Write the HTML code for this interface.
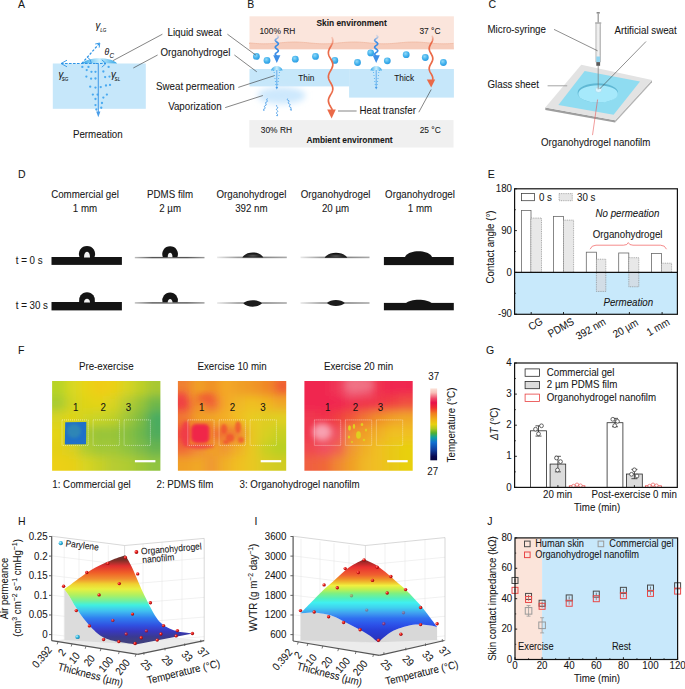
<!DOCTYPE html>
<html><head><meta charset="utf-8"><style>
html,body{margin:0;padding:0;background:#fff;width:685px;height:689px;overflow:hidden}
svg{display:block}
text{font-family:"Liberation Sans", sans-serif;stroke:#161616;stroke-width:0.06px;paint-order:stroke}
</style></head><body>
<svg width="685" height="689" viewBox="0 0 685 689" font-family='"Liberation Sans", sans-serif' fill="#161616">
<defs><linearGradient id="drop" x1="0" x2="1" y1="0" y2="0"><stop offset="0" stop-color="#2fa3e6"/><stop offset="0.3" stop-color="#8fd3f5"/><stop offset="0.5" stop-color="#c9eefc"/><stop offset="0.7" stop-color="#8fd3f5"/><stop offset="1" stop-color="#2fa3e6"/></linearGradient><radialGradient id="ball" cx="0.4" cy="0.35" r="0.7"><stop offset="0" stop-color="#8fd8f8"/><stop offset="0.6" stop-color="#3fb0ec"/><stop offset="1" stop-color="#2a98e0"/></radialGradient><radialGradient id="vapor" cx="0.5" cy="0.5" r="0.5"><stop offset="0" stop-color="#cfeafd"/><stop offset="0.6" stop-color="#dcf0fd"/><stop offset="1" stop-color="#ffffff" stop-opacity="0"/></radialGradient><linearGradient id="fadeb" x1="0" x2="0" y1="0" y2="1"><stop offset="0" stop-color="#3d8ee6" stop-opacity="0.1"/><stop offset="0.35" stop-color="#3d8ee6"/><stop offset="1" stop-color="#3d8ee6"/></linearGradient><linearGradient id="fader" x1="0" x2="0" y1="0" y2="1"><stop offset="0" stop-color="#ea6a48" stop-opacity="0.2"/><stop offset="0.15" stop-color="#ea6a48"/><stop offset="1" stop-color="#ea6a48"/></linearGradient><filter id="blur6" x="-0.1" y="-0.1" width="1.2" height="1.2"><feGaussianBlur stdDeviation="5"/></filter><filter id="blur1" x="-0.5" y="-0.5" width="2" height="2"><feGaussianBlur stdDeviation="0.9"/></filter><filter id="blur2" x="-0.5" y="-0.5" width="2" height="2"><feGaussianBlur stdDeviation="1.6"/></filter><filter id="blur3" x="-0.5" y="-0.5" width="2" height="2"><feGaussianBlur stdDeviation="3"/></filter><clipPath id="ci0"><rect x="52.1" y="380.9" width="108.3" height="89.90000000000003"/></clipPath><clipPath id="ci1"><rect x="177.9" y="380.9" width="108.3" height="89.90000000000003"/></clipPath><clipPath id="ci2"><rect x="304.4" y="380.9" width="108.3" height="89.90000000000003"/></clipPath><linearGradient id="cbar" x1="0" x2="0" y1="0" y2="1"><stop offset="0" stop-color="#fbe2d8"/><stop offset="0.06" stop-color="#f8c0b8"/><stop offset="0.14" stop-color="#f04a68"/><stop offset="0.2" stop-color="#e8104a"/><stop offset="0.27" stop-color="#f03030"/><stop offset="0.35" stop-color="#f08020"/><stop offset="0.43" stop-color="#f0b018"/><stop offset="0.5" stop-color="#e8d010"/><stop offset="0.56" stop-color="#b0c820"/><stop offset="0.62" stop-color="#50b030"/><stop offset="0.68" stop-color="#10a0a0"/><stop offset="0.75" stop-color="#1070d0"/><stop offset="0.85" stop-color="#1040a0"/><stop offset="0.95" stop-color="#080850"/><stop offset="1" stop-color="#060640"/></linearGradient><linearGradient id="jetH" gradientUnits="userSpaceOnUse" x1="0" x2="0" y1="554" y2="644"><stop offset="0.011" stop-color="#5a3030"/><stop offset="0.067" stop-color="#7a3028"/><stop offset="0.133" stop-color="#e03030"/><stop offset="0.211" stop-color="#f06028"/><stop offset="0.278" stop-color="#f09030"/><stop offset="0.333" stop-color="#f0d030"/><stop offset="0.389" stop-color="#e8f040"/><stop offset="0.456" stop-color="#b0f060"/><stop offset="0.522" stop-color="#70f0a0"/><stop offset="0.567" stop-color="#40f0e0"/><stop offset="0.633" stop-color="#40c0f0"/><stop offset="0.711" stop-color="#3080f0"/><stop offset="0.794" stop-color="#3050e0"/><stop offset="0.856" stop-color="#3838c0"/><stop offset="0.922" stop-color="#3a3a90"/><stop offset="0.967" stop-color="#404080"/></linearGradient><linearGradient id="jetI" gradientUnits="userSpaceOnUse" x1="0" x2="0" y1="558" y2="643"><stop offset="0.014" stop-color="#6a2a2a"/><stop offset="0.059" stop-color="#b02828"/><stop offset="0.106" stop-color="#e83030"/><stop offset="0.200" stop-color="#f06030"/><stop offset="0.247" stop-color="#f09028"/><stop offset="0.294" stop-color="#f0c830"/><stop offset="0.324" stop-color="#f0f040"/><stop offset="0.369" stop-color="#c0f050"/><stop offset="0.416" stop-color="#80f080"/><stop offset="0.478" stop-color="#50f0c0"/><stop offset="0.525" stop-color="#40f0f0"/><stop offset="0.586" stop-color="#40d0f0"/><stop offset="0.647" stop-color="#40a0f0"/><stop offset="0.709" stop-color="#3070f0"/><stop offset="0.788" stop-color="#2c50e8"/><stop offset="0.847" stop-color="#2840d8"/><stop offset="0.918" stop-color="#2838c8"/><stop offset="0.988" stop-color="#3030b0"/></linearGradient><radialGradient id="rdot" cx="0.35" cy="0.35" r="0.7"><stop offset="0" stop-color="#ff9a8a"/><stop offset="0.45" stop-color="#e81818"/><stop offset="1" stop-color="#8a0808"/></radialGradient><radialGradient id="cdot" cx="0.35" cy="0.35" r="0.7"><stop offset="0" stop-color="#c8f4ff"/><stop offset="0.5" stop-color="#30b8e0"/><stop offset="1" stop-color="#1878a0"/></radialGradient></defs>
<rect width="685" height="689" fill="#fff"/>
<text x="18.00" y="8.30" font-size="10.5" transform="translate(18.00 8.30) scale(1 1.1) translate(-18.00 -8.30)">A</text>
<rect x="52.80" y="63.50" width="93.00" height="45.30" fill="#c6e7fa"/>
<path d="M82,63.6 C88,56.5 111,56.5 117.2,63.6 Z" fill="url(#drop)"/>
<circle cx="86.72" cy="70.08" r="1.15" fill="#4aaaf0"/>
<circle cx="91.45" cy="71.83" r="1.15" fill="#4aaaf0"/>
<circle cx="95.48" cy="71.83" r="1.15" fill="#4aaaf0"/>
<circle cx="86.37" cy="76.56" r="1.15" fill="#4aaaf0"/>
<circle cx="91.10" cy="78.66" r="1.15" fill="#4aaaf0"/>
<circle cx="95.48" cy="78.49" r="1.15" fill="#4aaaf0"/>
<circle cx="103.36" cy="71.48" r="1.15" fill="#4aaaf0"/>
<circle cx="108.62" cy="66.92" r="1.15" fill="#4aaaf0"/>
<circle cx="105.12" cy="77.08" r="1.15" fill="#4aaaf0"/>
<circle cx="109.50" cy="76.56" r="1.15" fill="#4aaaf0"/>
<circle cx="90.22" cy="86.72" r="1.15" fill="#4aaaf0"/>
<circle cx="95.48" cy="87.60" r="1.15" fill="#4aaaf0"/>
<circle cx="100.74" cy="87.07" r="1.15" fill="#4aaaf0"/>
<circle cx="105.99" cy="85.49" r="1.15" fill="#4aaaf0"/>
<circle cx="110.02" cy="84.97" r="1.15" fill="#4aaaf0"/>
<circle cx="92.85" cy="94.60" r="1.15" fill="#4aaaf0"/>
<circle cx="97.58" cy="94.60" r="1.15" fill="#4aaaf0"/>
<circle cx="103.36" cy="97.58" r="1.15" fill="#4aaaf0"/>
<circle cx="106.87" cy="94.60" r="1.15" fill="#4aaaf0"/>
<circle cx="95.48" cy="98.98" r="1.15" fill="#4aaaf0"/>
<circle cx="95.48" cy="105.12" r="1.15" fill="#4aaaf0"/>
<circle cx="101.96" cy="103.01" r="1.15" fill="#4aaaf0"/>
<circle cx="96.36" cy="109.50" r="1.15" fill="#4aaaf0"/>
<circle cx="101.26" cy="107.74" r="1.15" fill="#4aaaf0"/>
<circle cx="82.34" cy="66.92" r="1.15" fill="#4aaaf0"/>
<circle cx="88.47" cy="66.92" r="1.15" fill="#4aaaf0"/>
<line x1="61.00" y1="63.50" x2="96.00" y2="63.50" stroke="#2f95e6" stroke-width="1.2" stroke-dasharray="2.6 1.4"/>
<line x1="96.00" y1="63.50" x2="106.00" y2="63.50" stroke="#2f95e6" stroke-width="1.2" stroke-dasharray="2.6 1.4"/>
<line x1="61.00" y1="63.50" x2="67.00" y2="60.20" stroke="#2f95e6" stroke-width="0.9"/>
<line x1="61.00" y1="63.50" x2="67.00" y2="66.80" stroke="#2f95e6" stroke-width="0.9"/>
<line x1="106.00" y1="63.50" x2="101.80" y2="59.80" stroke="#2f95e6" stroke-width="0.9"/>
<line x1="106.00" y1="63.50" x2="101.80" y2="67.20" stroke="#2f95e6" stroke-width="0.9"/>
<line x1="81.80" y1="63.50" x2="99.80" y2="43.00" stroke="#2f95e6" stroke-width="1.2" stroke-dasharray="2.6 1.4"/>
<line x1="99.80" y1="43.00" x2="95.20" y2="44.00" stroke="#2f95e6" stroke-width="0.9"/>
<line x1="99.80" y1="43.00" x2="99.20" y2="47.60" stroke="#2f95e6" stroke-width="0.9"/>
<path d="M87.3,57.2 Q91,59 91.3,63.3" fill="none" stroke="#2f95e6" stroke-width="0.9"/>
<line x1="98.30" y1="63.50" x2="98.30" y2="112.50" stroke="#4a9de8" stroke-width="1.1"/>
<polygon points="96.2,111.5 100.4,111.5 98.3,117.3" fill="#4a9de8"/>
<text x="95.60" y="29.20" font-size="9.6" font-style="italic" transform="translate(95.60 29.20) scale(1 1.1) translate(-95.60 -29.20)">γ</text>
<text x="100.20" y="32.00" font-size="4.6" font-style="italic" transform="translate(100.20 32.00) scale(1 1.1) translate(-100.20 -32.00)">LG</text>
<text x="104.60" y="55.30" font-size="8.6" font-style="italic" transform="translate(104.60 55.30) scale(1 1.1) translate(-104.60 -55.30)">θ</text>
<text x="109.50" y="57.60" font-size="6.3" font-style="italic" transform="translate(109.50 57.60) scale(1 1.1) translate(-109.50 -57.60)">C</text>
<text x="58.60" y="78.40" font-size="9.6" font-style="italic" transform="translate(58.60 78.40) scale(1 1.1) translate(-58.60 -78.40)">γ</text>
<text x="61.80" y="81.00" font-size="4.6" font-style="italic" transform="translate(61.80 81.00) scale(1 1.1) translate(-61.80 -81.00)">SG</text>
<text x="111.00" y="78.40" font-size="9.6" font-style="italic" transform="translate(111.00 78.40) scale(1 1.1) translate(-111.00 -78.40)">γ</text>
<text x="114.60" y="81.00" font-size="4.6" font-style="italic" transform="translate(114.60 81.00) scale(1 1.1) translate(-114.60 -81.00)">SL</text>
<text x="72.90" y="138.40" font-size="9.75" transform="translate(72.90 138.40) scale(1 1.1) translate(-72.90 -138.40)">Permeation</text>
<text x="167.50" y="35.80" font-size="9.75" transform="translate(167.50 35.80) scale(1 1.1) translate(-167.50 -35.80)">Liquid sweat</text>
<text x="160.50" y="56.50" font-size="9.75" transform="translate(160.50 56.50) scale(1 1.1) translate(-160.50 -56.50)">Organohydrogel</text>
<text x="156.10" y="90.40" font-size="9.75" transform="translate(156.10 90.40) scale(1 1.1) translate(-156.10 -90.40)">Sweat permeation</text>
<text x="168.20" y="109.80" font-size="9.75" transform="translate(168.20 109.80) scale(1 1.1) translate(-168.20 -109.80)">Vaporization</text>
<line x1="162.40" y1="34.20" x2="113.10" y2="60.60" stroke="#333" stroke-width="0.6"/>
<line x1="157.60" y1="55.00" x2="133.30" y2="68.00" stroke="#333" stroke-width="0.6"/>
<text x="247.20" y="8.00" font-size="10.5" transform="translate(247.20 8.00) scale(1 1.1) translate(-247.20 -8.00)">B</text>
<rect x="249.50" y="16.30" width="204.40" height="33.00" fill="#fbe5dc"/>
<path d="M249.5,44 L249.5,42.90 L251.5,43.09 L253.5,43.27 L255.5,43.43 L257.5,43.57 L259.5,43.68 L261.5,43.76 L263.5,43.80 L265.5,43.79 L267.5,43.75 L269.5,43.67 L271.5,43.56 L273.5,43.42 L275.5,43.25 L277.5,43.07 L279.5,42.89 L281.5,42.70 L283.5,42.52 L285.5,42.36 L287.5,42.22 L289.5,42.11 L291.5,42.04 L293.5,42.00 L295.5,42.01 L297.5,42.05 L299.5,42.13 L301.5,42.25 L303.5,42.39 L305.5,42.56 L307.5,42.74 L309.5,42.93 L311.5,43.12 L313.5,43.29 L315.5,43.45 L317.5,43.59 L319.5,43.70 L321.5,43.77 L323.5,43.80 L325.5,43.79 L327.5,43.74 L329.5,43.66 L331.5,43.54 L333.5,43.40 L335.5,43.23 L337.5,43.04 L339.5,42.86 L341.5,42.67 L343.5,42.49 L345.5,42.33 L347.5,42.20 L349.5,42.10 L351.5,42.03 L353.5,42.00 L355.5,42.01 L357.5,42.06 L359.5,42.15 L361.5,42.27 L363.5,42.42 L365.5,42.59 L367.5,42.77 L369.5,42.96 L371.5,43.15 L373.5,43.32 L375.5,43.48 L377.5,43.61 L379.5,43.71 L381.5,43.77 L383.5,43.80 L385.5,43.79 L387.5,43.73 L389.5,43.64 L391.5,43.52 L393.5,43.37 L395.5,43.20 L397.5,43.02 L399.5,42.83 L401.5,42.64 L403.5,42.47 L405.5,42.31 L407.5,42.18 L409.5,42.08 L411.5,42.02 L413.5,42.00 L415.5,42.02 L417.5,42.07 L419.5,42.17 L421.5,42.29 L423.5,42.44 L425.5,42.61 L427.5,42.80 L429.5,42.99 L431.5,43.17 L433.5,43.35 L435.5,43.50 L437.5,43.63 L439.5,43.72 L441.5,43.78 L443.5,43.80 L445.5,43.78 L447.5,43.72 L449.5,43.63 L451.5,43.50 L453.5,43.35 L453.9,49.3 L249.5,49.3 Z" fill="#f6ccbb"/>
<path d="M249.5,44 L249.5,42.90 L251.5,43.09 L253.5,43.27 L255.5,43.43 L257.5,43.57 L259.5,43.68 L261.5,43.76 L263.5,43.80 L265.5,43.79 L267.5,43.75 L269.5,43.67 L271.5,43.56 L273.5,43.42 L275.5,43.25 L277.5,43.07 L279.5,42.89 L281.5,42.70 L283.5,42.52 L285.5,42.36 L287.5,42.22 L289.5,42.11 L291.5,42.04 L293.5,42.00 L295.5,42.01 L297.5,42.05 L299.5,42.13 L301.5,42.25 L303.5,42.39 L305.5,42.56 L307.5,42.74 L309.5,42.93 L311.5,43.12 L313.5,43.29 L315.5,43.45 L317.5,43.59 L319.5,43.70 L321.5,43.77 L323.5,43.80 L325.5,43.79 L327.5,43.74 L329.5,43.66 L331.5,43.54 L333.5,43.40 L335.5,43.23 L337.5,43.04 L339.5,42.86 L341.5,42.67 L343.5,42.49 L345.5,42.33 L347.5,42.20 L349.5,42.10 L351.5,42.03 L353.5,42.00 L355.5,42.01 L357.5,42.06 L359.5,42.15 L361.5,42.27 L363.5,42.42 L365.5,42.59 L367.5,42.77 L369.5,42.96 L371.5,43.15 L373.5,43.32 L375.5,43.48 L377.5,43.61 L379.5,43.71 L381.5,43.77 L383.5,43.80 L385.5,43.79 L387.5,43.73 L389.5,43.64 L391.5,43.52 L393.5,43.37 L395.5,43.20 L397.5,43.02 L399.5,42.83 L401.5,42.64 L403.5,42.47 L405.5,42.31 L407.5,42.18 L409.5,42.08 L411.5,42.02 L413.5,42.00 L415.5,42.02 L417.5,42.07 L419.5,42.17 L421.5,42.29 L423.5,42.44 L425.5,42.61 L427.5,42.80 L429.5,42.99 L431.5,43.17 L433.5,43.35 L435.5,43.50 L437.5,43.63 L439.5,43.72 L441.5,43.78 L443.5,43.80 L445.5,43.78 L447.5,43.72 L449.5,43.63 L451.5,43.50 L453.5,43.35" fill="none" stroke="#efb49c" stroke-width="0.7"/>
<text x="351.60" y="26.00" font-size="8.4" text-anchor="middle" font-weight="bold" transform="translate(351.60 26.00) scale(1 1.1) translate(-351.60 -26.00)">Skin environment</text>
<text x="259.40" y="33.80" font-size="8.4" transform="translate(259.40 33.80) scale(1 1.1) translate(-259.40 -33.80)">100% RH</text>
<text x="419.40" y="33.80" font-size="8.4" transform="translate(419.40 33.80) scale(1 1.1) translate(-419.40 -33.80)">37 °C</text>
<rect x="249.50" y="69.00" width="99.60" height="17.40" fill="#c6e7fa"/>
<rect x="349.10" y="69.00" width="104.80" height="28.60" fill="#c6e7fa"/>
<text x="298.30" y="81.00" font-size="8.3" transform="translate(298.30 81.00) scale(1 1.1) translate(-298.30 -81.00)">Thin</text>
<text x="394.30" y="81.00" font-size="8.3" transform="translate(394.30 81.00) scale(1 1.1) translate(-394.30 -81.00)">Thick</text>
<circle cx="256.40" cy="56.40" r="3.4" fill="url(#ball)"/>
<circle cx="267.00" cy="60.40" r="3.4" fill="url(#ball)"/>
<circle cx="295.30" cy="59.20" r="3.4" fill="url(#ball)"/>
<circle cx="315.50" cy="56.40" r="3.4" fill="url(#ball)"/>
<circle cx="334.80" cy="60.40" r="3.4" fill="url(#ball)"/>
<circle cx="357.50" cy="62.50" r="3.4" fill="url(#ball)"/>
<circle cx="370.70" cy="52.90" r="3.4" fill="url(#ball)"/>
<circle cx="387.30" cy="60.80" r="3.4" fill="url(#ball)"/>
<circle cx="406.20" cy="54.70" r="3.4" fill="url(#ball)"/>
<circle cx="425.30" cy="57.50" r="3.4" fill="url(#ball)"/>
<circle cx="443.40" cy="62.50" r="3.4" fill="url(#ball)"/>
<ellipse cx="281.5" cy="95.5" rx="24" ry="8.5" fill="#cde8fd" filter="url(#blur3)"/>
<path d="M276.80,35.00 L277.83,35.78 L278.38,36.56 L278.19,37.33 L277.35,38.11 L276.25,38.89 L275.41,39.67 L275.22,40.44 L275.77,41.22 L276.80,42.00 L277.83,42.78 L278.38,43.56 L278.19,44.33 L277.35,45.11 L276.25,45.89 L275.41,46.67 L275.22,47.44 L275.77,48.22 L276.80,49.00 L277.83,49.78 L278.38,50.56 L278.19,51.33 L277.35,52.11 L276.25,52.89 L275.41,53.67 L275.22,54.44 L275.77,55.22 L276.80,56.00" fill="none" stroke="url(#fadeb)" stroke-width="1.6"/>
<polygon points="273.2,55.3 280.40000000000003,55.3 276.8,63" fill="#3d8ee6"/>
<path d="M271.0,70.4 C272.2,64.4 281.40000000000003,64.4 282.6,70.4 Z" fill="url(#drop)"/>
<line x1="276.80" y1="70.00" x2="276.80" y2="88.00" stroke="#4a9de8" stroke-width="0.8"/>
<polygon points="275.5,87 278.1,87 276.8,89.5" fill="#4a9de8"/>
<circle cx="274.20" cy="72.50" r="0.55" fill="#48aef0"/>
<circle cx="279.40" cy="72.50" r="0.55" fill="#48aef0"/>
<circle cx="274.60" cy="75.50" r="0.55" fill="#48aef0"/>
<circle cx="279.00" cy="75.50" r="0.55" fill="#48aef0"/>
<circle cx="275.00" cy="78.50" r="0.55" fill="#48aef0"/>
<circle cx="278.60" cy="78.50" r="0.55" fill="#48aef0"/>
<circle cx="275.40" cy="81.50" r="0.55" fill="#48aef0"/>
<circle cx="278.20" cy="81.50" r="0.55" fill="#48aef0"/>
<circle cx="275.80" cy="84.50" r="0.55" fill="#48aef0"/>
<circle cx="277.80" cy="84.50" r="0.55" fill="#48aef0"/>
<circle cx="273.60" cy="70.50" r="0.55" fill="#48aef0"/>
<circle cx="280.00" cy="70.50" r="0.55" fill="#48aef0"/>
<path d="M376.20,35.00 L377.23,35.78 L377.78,36.56 L377.59,37.33 L376.75,38.11 L375.65,38.89 L374.81,39.67 L374.62,40.44 L375.17,41.22 L376.20,42.00 L377.23,42.78 L377.78,43.56 L377.59,44.33 L376.75,45.11 L375.65,45.89 L374.81,46.67 L374.62,47.44 L375.17,48.22 L376.20,49.00 L377.23,49.78 L377.78,50.56 L377.59,51.33 L376.75,52.11 L375.65,52.89 L374.81,53.67 L374.62,54.44 L375.17,55.22 L376.20,56.00" fill="none" stroke="url(#fadeb)" stroke-width="1.6"/>
<polygon points="372.59999999999997,55.3 379.8,55.3 376.2,63" fill="#3d8ee6"/>
<path d="M370.4,70.4 C371.59999999999997,64.4 380.8,64.4 382.0,70.4 Z" fill="url(#drop)"/>
<line x1="376.20" y1="70.00" x2="376.20" y2="88.00" stroke="#4a9de8" stroke-width="0.8"/>
<polygon points="374.9,87 377.5,87 376.2,89.5" fill="#4a9de8"/>
<circle cx="373.60" cy="72.50" r="0.55" fill="#48aef0"/>
<circle cx="378.80" cy="72.50" r="0.55" fill="#48aef0"/>
<circle cx="374.00" cy="75.50" r="0.55" fill="#48aef0"/>
<circle cx="378.40" cy="75.50" r="0.55" fill="#48aef0"/>
<circle cx="374.40" cy="78.50" r="0.55" fill="#48aef0"/>
<circle cx="378.00" cy="78.50" r="0.55" fill="#48aef0"/>
<circle cx="374.80" cy="81.50" r="0.55" fill="#48aef0"/>
<circle cx="377.60" cy="81.50" r="0.55" fill="#48aef0"/>
<circle cx="375.20" cy="84.50" r="0.55" fill="#48aef0"/>
<circle cx="377.20" cy="84.50" r="0.55" fill="#48aef0"/>
<circle cx="373.00" cy="70.50" r="0.55" fill="#48aef0"/>
<circle cx="379.40" cy="70.50" r="0.55" fill="#48aef0"/>
<path d="M267.60,98.60 L266.68,99.17 L266.92,100.12 L267.45,101.16 L266.90,101.85 L265.78,102.35 L265.60,103.16 L266.22,104.24 L266.11,105.07 L265.01,105.58 L264.39,106.25 L264.88,107.28 L265.18,108.25 L264.32,108.83 L263.35,109.39" fill="none" stroke="#4a9de8" stroke-width="0.9"/>
<polygon points="262.95,109.26 265.05,109.94 263.50,111.12" fill="#4a9de8"/>
<path d="M277.10,105.00 L276.44,105.71 L276.68,106.43 L277.49,107.14 L277.77,107.86 L277.13,108.57 L276.45,109.29 L276.65,110.00 L277.47,110.71 L277.78,111.43 L277.17,112.14 L276.46,112.86 L276.62,113.57 L277.43,114.29 L277.79,115.00" fill="none" stroke="#4a9de8" stroke-width="0.9"/>
<polygon points="276.00,115.00 278.20,115.00 277.10,116.60" fill="#4a9de8"/>
<path d="M287.60,98.60 L287.18,99.57 L287.86,100.21 L288.90,100.73 L288.95,101.56 L288.32,102.60 L288.46,103.40 L289.53,103.91 L290.13,104.57 L289.65,105.56 L289.29,106.52 L290.05,107.13 L291.05,107.67 L291.01,108.52 L290.39,109.56" fill="none" stroke="#4a9de8" stroke-width="0.9"/>
<polygon points="289.85,109.72 291.95,109.08 291.37,110.93" fill="#4a9de8"/>
<path d="M331.84,37.00 L332.19,37.79 L332.47,38.59 L332.67,39.38 L332.78,40.17 L332.79,40.97 L332.72,41.76 L332.55,42.55 L332.30,43.35 L331.97,44.14 L331.59,44.93 L331.16,45.73 L330.71,46.52 L330.25,47.32 L329.81,48.11 L329.40,48.90 L329.05,49.70 L328.76,50.49 L328.55,51.28 L328.43,52.08 L328.40,52.87 L328.47,53.66 L328.63,54.46 L328.87,55.25 L329.19,56.04 L329.56,56.84 L329.99,57.63 L330.44,58.42 L330.89,59.22 L331.34,60.01 L331.75,60.80 L332.11,61.60 L332.41,62.39 L332.63,63.18 L332.76,63.98 L332.80,64.77 L332.74,65.57 L332.60,66.36 L332.36,67.15 L332.06,67.95 L331.68,68.74 L331.27,69.53 L330.82,70.33 L330.36,71.12 L329.92,71.91 L329.50,72.71 L329.13,73.50 L328.83,74.29 L328.60,75.09 L328.45,75.88 L328.40,76.67 L328.44,77.47 L328.58,78.26 L328.80,79.05 L329.10,79.85 L329.47,80.64 L329.88,81.43 L330.32,82.23 L330.78,83.02 L331.23,83.82 L331.65,84.61 L332.03,85.40 L332.34,86.20 L332.58,86.99 L332.74,87.78 L332.80,88.58 L332.77,89.37 L332.64,90.16 L332.43,90.96 L332.14,91.75 L331.78,92.54 L331.37,93.34 L330.93,94.13 L330.48,94.92 L330.03,95.72 L329.60,96.51 L329.22,97.30 L328.89,98.10 L328.64,98.89 L328.48,99.68 L328.40,100.48 L328.42,101.27 L328.54,102.07 L328.74,102.86 L329.02,103.65 L329.37,104.45 L329.77,105.24 L330.21,106.03 L330.67,106.83 L331.12,107.62 L331.55,108.41 L331.94,109.21 L332.27,110.00" fill="none" stroke="url(#fader)" stroke-width="1.7"/>
<polygon points="327.2,109.5 335.8,109.5 331.6,118.4" fill="#ea6a48"/>
<path d="M432.02,35.50 L432.35,36.29 L432.60,37.09 L432.76,37.88 L432.80,38.68 L432.73,39.47 L432.56,40.27 L432.28,41.06 L431.93,41.86 L431.52,42.65 L431.08,43.45 L430.63,44.24 L430.21,45.04 L429.84,45.83 L429.53,46.62 L429.32,47.42 L429.21,48.21 L429.22,49.01 L429.33,49.80 L429.55,50.60 L429.85,51.39 L430.23,52.19 L430.66,52.98 L431.11,53.78 L431.55,54.57 L431.95,55.37 L432.30,56.16 L432.57,56.96 L432.74,57.75 L432.80,58.54 L432.75,59.34 L432.59,60.13 L432.34,60.93 L432.00,61.72 L431.59,62.52 L431.16,63.31 L430.71,64.11 L430.28,64.90 L429.89,65.70 L429.58,66.49 L429.35,67.29 L429.22,68.08 L429.21,68.88 L429.30,69.67 L429.50,70.46 L429.80,71.26 L430.16,72.05 L430.58,72.85 L431.03,73.64 L431.47,74.44 L431.89,75.23 L432.25,76.03 L432.53,76.82 L432.72,77.62 L432.80,78.41 L432.77,79.21 L432.63,80.00" fill="none" stroke="url(#fader)" stroke-width="1.7"/>
<polygon points="426.8,79.5 435.2,79.5 431.2,87.6" fill="#ea6a48"/>
<line x1="227.40" y1="34.20" x2="255.90" y2="55.20" stroke="#333" stroke-width="0.6"/>
<line x1="234.40" y1="55.00" x2="256.80" y2="71.80" stroke="#333" stroke-width="0.6"/>
<line x1="238.30" y1="87.40" x2="274.30" y2="75.70" stroke="#333" stroke-width="0.6"/>
<line x1="225.20" y1="107.60" x2="262.90" y2="95.50" stroke="#333" stroke-width="0.6"/>
<text x="359.60" y="114.20" font-size="9.75" transform="translate(359.60 114.20) scale(1 1.1) translate(-359.60 -114.20)">Heat transfer</text>
<line x1="338.00" y1="111.00" x2="356.60" y2="111.00" stroke="#333" stroke-width="0.6"/>
<line x1="418.80" y1="112.20" x2="431.20" y2="89.50" stroke="#333" stroke-width="0.6"/>
<rect x="249.30" y="120.10" width="204.20" height="27.40" fill="#f0f0f0"/>
<text x="260.80" y="133.30" font-size="8.4" transform="translate(260.80 133.30) scale(1 1.1) translate(-260.80 -133.30)">30% RH</text>
<text x="419.70" y="133.30" font-size="8.4" transform="translate(419.70 133.30) scale(1 1.1) translate(-419.70 -133.30)">25 °C</text>
<text x="306.40" y="142.90" font-size="8.4" font-weight="bold" transform="translate(306.40 142.90) scale(1 1.1) translate(-306.40 -142.90)">Ambient environment</text>
<text x="488.40" y="8.00" font-size="10.5" transform="translate(488.40 8.00) scale(1 1.1) translate(-488.40 -8.00)">C</text>
<text x="487.50" y="32.80" font-size="9.75" transform="translate(487.50 32.80) scale(1 1.1) translate(-487.50 -32.80)">Micro-syringe</text>
<text x="614.50" y="33.80" font-size="9.75" transform="translate(614.50 33.80) scale(1 1.1) translate(-614.50 -33.80)">Artificial sweat</text>
<text x="487.50" y="88.00" font-size="9.75" transform="translate(487.50 88.00) scale(1 1.1) translate(-487.50 -88.00)">Glass sheet</text>
<text x="541.00" y="146.40" font-size="9.75" transform="translate(541.00 146.40) scale(1 1.1) translate(-541.00 -146.40)">Organohydrogel nanofilm</text>
<polygon points="545.3,107.6 615.1,120.2 615.1,122.4 545.3,109.9" fill="#9e9e9e"/>
<polygon points="615.1,120.2 652.0,80.0 652.0,82.2 615.1,122.4" fill="#b4b4b4"/>
<polygon points="581.3,64.8 652.0,80.0 615.1,120.2 545.3,107.6" fill="#e3e3e3"/>
<polygon points="584.7,71.0 640.0,81.5 613.6,114.8 558.4,105.1" fill="#8fdcf1"/>
<ellipse cx="597.8" cy="92.9" rx="20.2" ry="9.6" fill="#5fb8d4"/>
<ellipse cx="598.1" cy="93.9" rx="19.8" ry="8.7" fill="#a6e9fb"/>
<ellipse cx="598.6" cy="89.8" rx="3.2" ry="2.7" fill="#d9f4fd" stroke="#9ad4ea" stroke-width="0.5"/>
<line x1="598.20" y1="89.30" x2="598.20" y2="65.60" stroke="#7a7a7a" stroke-width="0.7"/>
<rect x="596.30" y="62.00" width="3.80" height="3.80" fill="#5a5a5a"/>
<defs><linearGradient id="barrel" x1="0" x2="1"><stop offset="0" stop-color="#d8d8d8"/><stop offset="0.5" stop-color="#f6f6f6"/><stop offset="1" stop-color="#c8c8c8"/></linearGradient></defs>
<rect x="595.90" y="23.00" width="4.60" height="39.00" fill="url(#barrel)" stroke="#9a9a9a" stroke-width="0.5"/>
<rect x="596.30" y="56.50" width="3.80" height="5.50" fill="#8fd4f0"/>
<rect x="595.10" y="22.30" width="6.20" height="1.40" fill="#b0b0b0"/>
<line x1="598.20" y1="13.50" x2="598.20" y2="22.50" stroke="#9a9a9a" stroke-width="1.3"/>
<rect x="596.60" y="12.00" width="3.20" height="1.60" fill="#8a8a8a"/>
<line x1="599.40" y1="28.00" x2="600.20" y2="28.00" stroke="#aaa" stroke-width="0.3"/>
<line x1="599.40" y1="30.00" x2="600.20" y2="30.00" stroke="#aaa" stroke-width="0.3"/>
<line x1="599.40" y1="32.00" x2="600.20" y2="32.00" stroke="#aaa" stroke-width="0.3"/>
<line x1="599.40" y1="34.00" x2="600.20" y2="34.00" stroke="#aaa" stroke-width="0.3"/>
<line x1="599.40" y1="36.00" x2="600.20" y2="36.00" stroke="#aaa" stroke-width="0.3"/>
<line x1="599.40" y1="38.00" x2="600.20" y2="38.00" stroke="#aaa" stroke-width="0.3"/>
<line x1="599.40" y1="40.00" x2="600.20" y2="40.00" stroke="#aaa" stroke-width="0.3"/>
<line x1="599.40" y1="42.00" x2="600.20" y2="42.00" stroke="#aaa" stroke-width="0.3"/>
<line x1="599.40" y1="44.00" x2="600.20" y2="44.00" stroke="#aaa" stroke-width="0.3"/>
<line x1="599.40" y1="46.00" x2="600.20" y2="46.00" stroke="#aaa" stroke-width="0.3"/>
<line x1="599.40" y1="48.00" x2="600.20" y2="48.00" stroke="#aaa" stroke-width="0.3"/>
<line x1="599.40" y1="50.00" x2="600.20" y2="50.00" stroke="#aaa" stroke-width="0.3"/>
<line x1="599.40" y1="52.00" x2="600.20" y2="52.00" stroke="#aaa" stroke-width="0.3"/>
<line x1="599.40" y1="54.00" x2="600.20" y2="54.00" stroke="#aaa" stroke-width="0.3"/>
<line x1="554.00" y1="29.40" x2="597.60" y2="50.80" stroke="#333" stroke-width="0.55"/>
<line x1="646.00" y1="41.50" x2="599.60" y2="89.00" stroke="#333" stroke-width="0.55"/>
<line x1="547.60" y1="85.80" x2="567.20" y2="85.80" stroke="#9a9a9a" stroke-width="0.9"/>
<line x1="597.60" y1="99.50" x2="592.50" y2="135.10" stroke="#e84a4a" stroke-width="0.55"/>
<text x="18.10" y="178.10" font-size="10.5" transform="translate(18.10 178.10) scale(1 1.1) translate(-18.10 -178.10)">D</text>
<text x="85.00" y="198.00" font-size="9.75" text-anchor="middle" transform="translate(85.00 198.00) scale(1 1.1) translate(-85.00 -198.00)">Commercial gel</text>
<text x="85.00" y="212.40" font-size="9.75" text-anchor="middle" transform="translate(85.00 212.40) scale(1 1.1) translate(-85.00 -212.40)">1 mm</text>
<text x="170.10" y="198.00" font-size="9.75" text-anchor="middle" transform="translate(170.10 198.00) scale(1 1.1) translate(-170.10 -198.00)">PDMS film</text>
<text x="170.10" y="212.40" font-size="9.75" text-anchor="middle" transform="translate(170.10 212.40) scale(1 1.1) translate(-170.10 -212.40)">2 µm</text>
<text x="251.40" y="198.00" font-size="9.75" text-anchor="middle" transform="translate(251.40 198.00) scale(1 1.1) translate(-251.40 -198.00)">Organohydrogel</text>
<text x="251.40" y="212.40" font-size="9.75" text-anchor="middle" transform="translate(251.40 212.40) scale(1 1.1) translate(-251.40 -212.40)">392 nm</text>
<text x="335.60" y="198.00" font-size="9.75" text-anchor="middle" transform="translate(335.60 198.00) scale(1 1.1) translate(-335.60 -198.00)">Organohydrogel</text>
<text x="335.60" y="212.40" font-size="9.75" text-anchor="middle" transform="translate(335.60 212.40) scale(1 1.1) translate(-335.60 -212.40)">20 µm</text>
<text x="420.00" y="198.00" font-size="9.75" text-anchor="middle" transform="translate(420.00 198.00) scale(1 1.1) translate(-420.00 -198.00)">Organohydrogel</text>
<text x="420.00" y="212.40" font-size="9.75" text-anchor="middle" transform="translate(420.00 212.40) scale(1 1.1) translate(-420.00 -212.40)">1 mm</text>
<text x="15.80" y="263.80" font-size="9.75" transform="translate(15.80 263.80) scale(1 1.1) translate(-15.80 -263.80)">t = 0 s</text>
<text x="15.80" y="308.60" font-size="9.75" transform="translate(15.80 308.60) scale(1 1.1) translate(-15.80 -308.60)">t = 30 s</text>
<rect x="51.50" y="257.00" width="70.40" height="7.90" fill="#141414"/>
<rect x="51.50" y="302.00" width="70.40" height="8.40" fill="#141414"/>
<path d="M79.56,257.2 A8.1,8.1 0 1 1 94.44,257.2 Z" fill="#141414"/>
<path d="M84.00,257.40 C84.00,250.02 90.00,250.02 90.00,257.40 Z" fill="#f4f4f4"/>
<path d="M79.10,302.2 A8.1,8.1 0 1 1 94.90,302.2 Z" fill="#141414"/>
<path d="M84.00,302.40 C84.00,297.68 90.00,297.68 90.00,302.40 Z" fill="#f4f4f4"/>
<defs><linearGradient id="ln" x1="0" x2="1"><stop offset="0" stop-color="#bdbdbd"/><stop offset="0.25" stop-color="#555"/><stop offset="0.75" stop-color="#555"/><stop offset="1" stop-color="#9a9a9a"/></linearGradient><linearGradient id="ln2" x1="0" x2="1"><stop offset="0" stop-color="#e8e8e8"/><stop offset="0.3" stop-color="#9a9a9a"/><stop offset="0.7" stop-color="#888"/><stop offset="1" stop-color="#aaa"/></linearGradient><radialGradient id="cap" cx="0.5" cy="0.65" r="0.55"><stop offset="0" stop-color="#5a5a5a"/><stop offset="0.5" stop-color="#2a2a2a"/><stop offset="1" stop-color="#111"/></radialGradient></defs>
<rect x="134.80" y="256.90" width="69.70" height="1.40" fill="url(#ln)"/>
<rect x="134.80" y="302.20" width="69.70" height="1.40" fill="url(#ln)"/>
<path d="M162.83,257.0 A7.85,7.85 0 1 1 177.37,257.0 Z" fill="#141414"/>
<path d="M167.70,257.20 C167.70,251.28 172.50,251.28 172.50,257.20 Z" fill="#f4f4f4"/>
<path d="M162.52,302.3 A7.85,7.85 0 1 1 177.68,302.3 Z" fill="#141414"/>
<path d="M167.70,302.50 C167.70,297.78 172.50,297.78 172.50,302.50 Z" fill="#f4f4f4"/>
<rect x="217.10" y="256.60" width="69.70" height="1.60" fill="url(#ln2)"/>
<rect x="217.10" y="302.20" width="69.70" height="1.60" fill="url(#ln2)"/>
<rect x="300.50" y="256.60" width="69.00" height="1.60" fill="url(#ln2)"/>
<rect x="300.50" y="302.20" width="69.00" height="1.60" fill="url(#ln2)"/>
<path d="M242.30,257.60 C246.10,250.80 259.60,250.80 263.40,257.60 Z" fill="url(#cap)"/>
<path d="M324.60,257.80 C328.69,251.20 343.21,251.20 347.30,257.80 Z" fill="url(#cap)"/>
<path d="M243.30,303.20 C247.04,299.30 258.26,299.30 262.00,303.20 C258.26,307.80 247.04,307.80 243.30,303.20 Z" fill="#1c1c1c"/>
<path d="M327.00,303.00 C330.56,299.00 341.24,299.00 344.80,303.00 C341.24,307.00 330.56,307.00 327.00,303.00 Z" fill="#1c1c1c"/>
<rect x="383.90" y="257.00" width="69.90" height="8.10" fill="#141414"/>
<rect x="383.90" y="302.90" width="69.90" height="7.40" fill="#141414"/>
<path d="M404.8,257.5 C407.5,249.2 429.5,249.2 432.2,257.5 Z" fill="#141414"/>
<path d="M405.8,303.3 C410,298.6 427.5,298.6 431.8,303.3 Z" fill="#141414"/>
<text x="487.70" y="177.80" font-size="10.5" transform="translate(487.70 177.80) scale(1 1.1) translate(-487.70 -177.80)">E</text>
<rect x="514.60" y="272.40" width="162.80" height="41.90" fill="#c8e9fb"/>
<rect x="521.40" y="210.40" width="9.60" height="62.00" fill="#fff" stroke="#6a6a6a" stroke-width="0.8"/>
<rect x="553.50" y="216.39" width="10.00" height="56.01" fill="#fff" stroke="#6a6a6a" stroke-width="0.8"/>
<rect x="586.30" y="252.20" width="10.10" height="20.20" fill="#fff" stroke="#6a6a6a" stroke-width="0.8"/>
<rect x="618.70" y="252.99" width="10.10" height="19.41" fill="#fff" stroke="#6a6a6a" stroke-width="0.8"/>
<rect x="651.40" y="253.45" width="10.10" height="18.95" fill="#fff" stroke="#6a6a6a" stroke-width="0.8"/>
<rect x="531.00" y="218.07" width="10.50" height="54.33" fill="#e8e8e8"/>
<rect x="531.00" y="218.07" width="10.50" height="54.33" fill="none" stroke="#7a7a7a" stroke-width="0.6" stroke-dasharray="1 0.8"/>
<rect x="563.50" y="220.11" width="10.10" height="52.29" fill="#e8e8e8"/>
<rect x="563.50" y="220.11" width="10.10" height="52.29" fill="none" stroke="#7a7a7a" stroke-width="0.6" stroke-dasharray="1 0.8"/>
<rect x="596.40" y="259.21" width="9.40" height="13.19" fill="#e8e8e8"/>
<rect x="596.40" y="272.40" width="9.40" height="19.04" fill="#d2dde6"/>
<rect x="596.40" y="259.21" width="9.40" height="32.23" fill="none" stroke="#7a7a7a" stroke-width="0.6" stroke-dasharray="1 0.8"/>
<rect x="628.80" y="257.68" width="10.00" height="14.72" fill="#e8e8e8"/>
<rect x="628.80" y="272.40" width="10.00" height="14.35" fill="#d2dde6"/>
<rect x="628.80" y="257.68" width="10.00" height="29.07" fill="none" stroke="#7a7a7a" stroke-width="0.6" stroke-dasharray="1 0.8"/>
<rect x="661.50" y="263.20" width="10.10" height="9.20" fill="#e8e8e8"/>
<rect x="661.50" y="263.20" width="10.10" height="9.20" fill="none" stroke="#7a7a7a" stroke-width="0.6" stroke-dasharray="1 0.8"/>
<rect x="514.60" y="188.80" width="162.80" height="125.50" fill="none" stroke="#111" stroke-width="1.2"/>
<line x1="514.60" y1="272.40" x2="677.40" y2="272.40" stroke="#111" stroke-width="1.2"/>
<line x1="514.60" y1="188.81" x2="516.90" y2="188.81" stroke="#111" stroke-width="0.9"/>
<text x="512.00" y="192.01" font-size="9.75" text-anchor="end" transform="translate(512.00 192.01) scale(1 1.1) translate(-512.00 -192.01)">180</text>
<line x1="514.60" y1="230.60" x2="516.90" y2="230.60" stroke="#111" stroke-width="0.9"/>
<text x="512.00" y="233.80" font-size="9.75" text-anchor="end" transform="translate(512.00 233.80) scale(1 1.1) translate(-512.00 -233.80)">90</text>
<line x1="514.60" y1="272.40" x2="516.90" y2="272.40" stroke="#111" stroke-width="0.9"/>
<text x="512.00" y="275.60" font-size="9.75" text-anchor="end" transform="translate(512.00 275.60) scale(1 1.1) translate(-512.00 -275.60)">0</text>
<line x1="514.60" y1="314.20" x2="516.90" y2="314.20" stroke="#111" stroke-width="0.9"/>
<text x="512.00" y="317.40" font-size="9.75" text-anchor="end" transform="translate(512.00 317.40) scale(1 1.1) translate(-512.00 -317.40)">-90</text>
<line x1="514.60" y1="209.71" x2="515.90" y2="209.71" stroke="#111" stroke-width="0.8"/>
<line x1="514.60" y1="251.50" x2="515.90" y2="251.50" stroke="#111" stroke-width="0.8"/>
<line x1="514.60" y1="293.30" x2="515.90" y2="293.30" stroke="#111" stroke-width="0.8"/>
<line x1="531.20" y1="314.30" x2="531.20" y2="312.00" stroke="#111" stroke-width="0.9"/>
<line x1="563.50" y1="314.30" x2="563.50" y2="312.00" stroke="#111" stroke-width="0.9"/>
<line x1="596.50" y1="314.30" x2="596.50" y2="312.00" stroke="#111" stroke-width="0.9"/>
<line x1="629.40" y1="314.30" x2="629.40" y2="312.00" stroke="#111" stroke-width="0.9"/>
<line x1="662.10" y1="314.30" x2="662.10" y2="312.00" stroke="#111" stroke-width="0.9"/>
<text x="493.60" y="247.00" font-size="9.75" text-anchor="middle" transform="translate(493.60 247.00) rotate(-90) scale(1 1.1) translate(-493.60 -247.00)">Contact angle (°)</text>
<rect x="521.40" y="193.60" width="13.20" height="7.10" fill="#fff" stroke="#3a3a3a" stroke-width="0.75"/>
<text x="539.00" y="200.70" font-size="9.75" transform="translate(539.00 200.70) scale(1 1.1) translate(-539.00 -200.70)">0 s</text>
<rect x="559.10" y="193.60" width="13.20" height="7.10" fill="#e6e6e6" stroke="#7a7a7a" stroke-width="0.6" stroke-dasharray="1 0.8"/>
<text x="577.00" y="200.60" font-size="9.75" transform="translate(577.00 200.60) scale(1 1.1) translate(-577.00 -200.60)">30 s</text>
<text x="595.50" y="216.90" font-size="9.75" font-style="italic" transform="translate(595.50 216.90) scale(1 1.1) translate(-595.50 -216.90)">No permeation</text>
<text x="592.70" y="237.90" font-size="9.75" transform="translate(592.70 237.90) scale(1 1.1) translate(-592.70 -237.90)">Organohydrogel</text>
<path d="M590.1,249.2 Q591.5,245.2 596,245.2 L623.5,245.2 Q627.5,245.2 628.3,242.6 Q629.1,245.2 633,245.2 L660.5,245.2 Q665,245.2 666.5,249.2" fill="none" stroke="#f05a5a" stroke-width="0.7"/>
<text x="603.40" y="306.50" font-size="9.75" font-style="italic" transform="translate(603.40 306.50) scale(1 1.1) translate(-603.40 -306.50)">Permeation</text>
<text x="0" y="3.4" font-size="9.75" text-anchor="middle" transform="translate(535.4,323.9) rotate(-30) scale(1 1.1)">CG</text>
<text x="0" y="3.4" font-size="9.75" text-anchor="middle" transform="translate(560.9,327.5) rotate(-30) scale(1 1.1)">PDMS</text>
<text x="0" y="3.4" font-size="9.75" text-anchor="middle" transform="translate(590.7,328.7) rotate(-30) scale(1 1.1)">392 nm</text>
<text x="0" y="3.4" font-size="9.75" text-anchor="middle" transform="translate(625.4,328.3) rotate(-30) scale(1 1.1)">20 µm</text>
<text x="0" y="3.4" font-size="9.75" text-anchor="middle" transform="translate(658.0,327.0) rotate(-30) scale(1 1.1)">1 mm</text>
<text x="17.90" y="353.60" font-size="10.5" transform="translate(17.90 353.60) scale(1 1.1) translate(-17.90 -353.60)">F</text>
<text x="106.25" y="369.70" font-size="9.75" text-anchor="middle" transform="translate(106.25 369.70) scale(1 1.1) translate(-106.25 -369.70)">Pre-exercise</text>
<g clip-path="url(#ci0)"><g filter="url(#blur6)"><rect x="40.1" y="368.9" width="26.1" height="27.6" fill="#b8d428"/><rect x="65.6" y="368.9" width="14.1" height="27.6" fill="#d8d820"/><rect x="79.2" y="368.9" width="14.1" height="27.6" fill="#e8d418"/><rect x="92.7" y="368.9" width="14.1" height="27.6" fill="#f0cc18"/><rect x="106.2" y="368.9" width="14.1" height="27.6" fill="#ecd018"/><rect x="119.8" y="368.9" width="14.1" height="27.6" fill="#d8d420"/><rect x="133.3" y="368.9" width="14.1" height="27.6" fill="#c0d028"/><rect x="146.9" y="368.9" width="26.1" height="27.6" fill="#a8c830"/><rect x="40.1" y="395.9" width="26.1" height="15.6" fill="#a8cc30"/><rect x="65.6" y="395.9" width="14.1" height="15.6" fill="#d0d420"/><rect x="79.2" y="395.9" width="14.1" height="15.6" fill="#e0d418"/><rect x="92.7" y="395.9" width="14.1" height="15.6" fill="#e4d418"/><rect x="106.2" y="395.9" width="14.1" height="15.6" fill="#d8d420"/><rect x="119.8" y="395.9" width="14.1" height="15.6" fill="#b8cc30"/><rect x="133.3" y="395.9" width="14.1" height="15.6" fill="#98c438"/><rect x="146.9" y="395.9" width="26.1" height="15.6" fill="#70b848"/><rect x="40.1" y="410.9" width="26.1" height="15.6" fill="#d8d420"/><rect x="65.6" y="410.9" width="14.1" height="15.6" fill="#e0d418"/><rect x="79.2" y="410.9" width="14.1" height="15.6" fill="#d0d420"/><rect x="92.7" y="410.9" width="14.1" height="15.6" fill="#c8d428"/><rect x="106.2" y="410.9" width="14.1" height="15.6" fill="#c0d028"/><rect x="119.8" y="410.9" width="14.1" height="15.6" fill="#a0c838"/><rect x="133.3" y="410.9" width="14.1" height="15.6" fill="#80bc40"/><rect x="146.9" y="410.9" width="26.1" height="15.6" fill="#48ac60"/><rect x="40.1" y="425.9" width="26.1" height="15.6" fill="#e4d418"/><rect x="65.6" y="425.9" width="14.1" height="15.6" fill="#c8d020"/><rect x="79.2" y="425.9" width="14.1" height="15.6" fill="#a8c830"/><rect x="92.7" y="425.9" width="14.1" height="15.6" fill="#98c438"/><rect x="106.2" y="425.9" width="14.1" height="15.6" fill="#98c438"/><rect x="119.8" y="425.9" width="14.1" height="15.6" fill="#88c040"/><rect x="133.3" y="425.9" width="14.1" height="15.6" fill="#70b848"/><rect x="146.9" y="425.9" width="26.1" height="15.6" fill="#50ac5c"/><rect x="40.1" y="440.8" width="26.1" height="15.6" fill="#e4d018"/><rect x="65.6" y="440.8" width="14.1" height="15.6" fill="#d8d020"/><rect x="79.2" y="440.8" width="14.1" height="15.6" fill="#b0cc30"/><rect x="92.7" y="440.8" width="14.1" height="15.6" fill="#a0c838"/><rect x="106.2" y="440.8" width="14.1" height="15.6" fill="#a0c838"/><rect x="119.8" y="440.8" width="14.1" height="15.6" fill="#90c440"/><rect x="133.3" y="440.8" width="14.1" height="15.6" fill="#80bc48"/><rect x="146.9" y="440.8" width="26.1" height="15.6" fill="#68b450"/><rect x="40.1" y="455.8" width="26.1" height="27.6" fill="#ecd018"/><rect x="65.6" y="455.8" width="14.1" height="27.6" fill="#e8d018"/><rect x="79.2" y="455.8" width="14.1" height="27.6" fill="#d8d420"/><rect x="92.7" y="455.8" width="14.1" height="27.6" fill="#c8d028"/><rect x="106.2" y="455.8" width="14.1" height="27.6" fill="#b8cc30"/><rect x="119.8" y="455.8" width="14.1" height="27.6" fill="#b0cc30"/><rect x="133.3" y="455.8" width="14.1" height="27.6" fill="#a0c838"/><rect x="146.9" y="455.8" width="26.1" height="27.6" fill="#90c440"/></g>
<path d="M65.2,422.3 L86.3,421.9 L86.0,444.3 L64.8,444.6 Z" fill="#1f70c8"/>
<ellipse cx="74" cy="431" rx="7" ry="7" fill="#3a98a8" opacity="0.55" filter="url(#blur2)"/>
</g>
<rect x="62.00" y="419.90" width="26.30" height="25.50" fill="none" stroke="#ffffff" stroke-width="0.6" stroke-dasharray="1 1" opacity="0.9"/>
<text x="75.70" y="411.40" font-size="9.75" text-anchor="middle" fill="#111" transform="translate(75.70 411.40) scale(1 1.1) translate(-75.70 -411.40)">1</text>
<rect x="93.10" y="419.90" width="26.30" height="25.50" fill="none" stroke="#ffffff" stroke-width="0.6" stroke-dasharray="1 1" opacity="0.9"/>
<text x="103.10" y="411.40" font-size="9.75" text-anchor="middle" fill="#111" transform="translate(103.10 411.40) scale(1 1.1) translate(-103.10 -411.40)">2</text>
<rect x="124.10" y="419.90" width="26.30" height="25.50" fill="none" stroke="#ffffff" stroke-width="0.6" stroke-dasharray="1 1" opacity="0.9"/>
<text x="128.50" y="411.40" font-size="9.75" text-anchor="middle" fill="#111" transform="translate(128.50 411.40) scale(1 1.1) translate(-128.50 -411.40)">3</text>
<rect x="134.90" y="460.10" width="20.50" height="2.20" fill="#ffffff"/>
<text x="232.05" y="369.70" font-size="9.75" text-anchor="middle" transform="translate(232.05 369.70) scale(1 1.1) translate(-232.05 -369.70)">Exercise 10 min</text>
<g clip-path="url(#ci1)"><g filter="url(#blur6)"><rect x="165.9" y="368.9" width="26.1" height="27.6" fill="#f08030"/><rect x="191.4" y="368.9" width="14.1" height="27.6" fill="#f0a028"/><rect x="205.0" y="368.9" width="14.1" height="27.6" fill="#f09028"/><rect x="218.5" y="368.9" width="14.1" height="27.6" fill="#f4a828"/><rect x="232.1" y="368.9" width="14.1" height="27.6" fill="#f0a028"/><rect x="245.6" y="368.9" width="14.1" height="27.6" fill="#f09828"/><rect x="259.1" y="368.9" width="14.1" height="27.6" fill="#f08828"/><rect x="272.7" y="368.9" width="26.1" height="27.6" fill="#f07030"/><rect x="165.9" y="395.9" width="26.1" height="15.6" fill="#f04a40"/><rect x="191.4" y="395.9" width="14.1" height="15.6" fill="#f09028"/><rect x="205.0" y="395.9" width="14.1" height="15.6" fill="#f06038"/><rect x="218.5" y="395.9" width="14.1" height="15.6" fill="#f4a828"/><rect x="232.1" y="395.9" width="14.1" height="15.6" fill="#f0b828"/><rect x="245.6" y="395.9" width="14.1" height="15.6" fill="#f0c020"/><rect x="259.1" y="395.9" width="14.1" height="15.6" fill="#f0b820"/><rect x="272.7" y="395.9" width="26.1" height="15.6" fill="#f0a828"/><rect x="165.9" y="410.9" width="26.1" height="15.6" fill="#f07830"/><rect x="191.4" y="410.9" width="14.1" height="15.6" fill="#f0a028"/><rect x="205.0" y="410.9" width="14.1" height="15.6" fill="#f0a828"/><rect x="218.5" y="410.9" width="14.1" height="15.6" fill="#f4b028"/><rect x="232.1" y="410.9" width="14.1" height="15.6" fill="#f0c020"/><rect x="245.6" y="410.9" width="14.1" height="15.6" fill="#e8cc20"/><rect x="259.1" y="410.9" width="14.1" height="15.6" fill="#e0cc20"/><rect x="272.7" y="410.9" width="26.1" height="15.6" fill="#e0d020"/><rect x="165.9" y="425.9" width="26.1" height="15.6" fill="#f04a40"/><rect x="191.4" y="425.9" width="14.1" height="15.6" fill="#f05040"/><rect x="205.0" y="425.9" width="14.1" height="15.6" fill="#f07030"/><rect x="218.5" y="425.9" width="14.1" height="15.6" fill="#f07030"/><rect x="232.1" y="425.9" width="14.1" height="15.6" fill="#f08030"/><rect x="245.6" y="425.9" width="14.1" height="15.6" fill="#e8c820"/><rect x="259.1" y="425.9" width="14.1" height="15.6" fill="#d8d020"/><rect x="272.7" y="425.9" width="26.1" height="15.6" fill="#c8d020"/><rect x="165.9" y="440.8" width="26.1" height="15.6" fill="#f06838"/><rect x="191.4" y="440.8" width="14.1" height="15.6" fill="#f08838"/><rect x="205.0" y="440.8" width="14.1" height="15.6" fill="#f0a028"/><rect x="218.5" y="440.8" width="14.1" height="15.6" fill="#f09830"/><rect x="232.1" y="440.8" width="14.1" height="15.6" fill="#f0b028"/><rect x="245.6" y="440.8" width="14.1" height="15.6" fill="#e8c820"/><rect x="259.1" y="440.8" width="14.1" height="15.6" fill="#c8d020"/><rect x="272.7" y="440.8" width="26.1" height="15.6" fill="#b8d020"/><rect x="165.9" y="455.8" width="26.1" height="27.6" fill="#f0a028"/><rect x="191.4" y="455.8" width="14.1" height="27.6" fill="#f0a828"/><rect x="205.0" y="455.8" width="14.1" height="27.6" fill="#f09830"/><rect x="218.5" y="455.8" width="14.1" height="27.6" fill="#f0b028"/><rect x="232.1" y="455.8" width="14.1" height="27.6" fill="#f0c020"/><rect x="245.6" y="455.8" width="14.1" height="27.6" fill="#e8c820"/><rect x="259.1" y="455.8" width="14.1" height="27.6" fill="#d8cc20"/><rect x="272.7" y="455.8" width="26.1" height="27.6" fill="#d0cc20"/></g>
<ellipse cx="186" cy="434" rx="5" ry="13" fill="#f03848" opacity="0.8" filter="url(#blur2)"/>
<ellipse cx="201" cy="446" rx="13" ry="3" fill="#f03848" opacity="0.7" filter="url(#blur2)"/>
<rect x="190.1" y="421.6" width="22.1" height="22.6" fill="#f08a28" filter="url(#blur1)"/>
<rect x="191" y="424" width="18.5" height="19" rx="5" fill="#f02848" filter="url(#blur2)"/>
<ellipse cx="224" cy="429" rx="3" ry="5" fill="#f05030" opacity="0.75" filter="url(#blur1)"/>
<ellipse cx="230" cy="438" rx="4" ry="4" fill="#f05030" opacity="0.75" filter="url(#blur1)"/>
<ellipse cx="238" cy="427" rx="3" ry="6" fill="#f05030" opacity="0.75" filter="url(#blur1)"/>
<ellipse cx="241" cy="440" rx="3" ry="3" fill="#f05030" opacity="0.75" filter="url(#blur1)"/>
<ellipse cx="226" cy="442" rx="3" ry="2" fill="#f05030" opacity="0.75" filter="url(#blur1)"/>
<ellipse cx="181" cy="400" rx="4" ry="8" fill="#f03848" opacity="0.8" filter="url(#blur3)"/>
<ellipse cx="205" cy="398" rx="9" ry="4" fill="#f04a38" opacity="0.7" filter="url(#blur3)"/>
<ellipse cx="283" cy="386" rx="5" ry="5" fill="#f05030" opacity="0.7" filter="url(#blur3)"/>
</g>
<rect x="187.80" y="419.90" width="26.30" height="25.50" fill="none" stroke="#ffffff" stroke-width="0.6" stroke-dasharray="1 1" opacity="0.9"/>
<text x="201.70" y="411.40" font-size="9.75" text-anchor="middle" fill="#111" transform="translate(201.70 411.40) scale(1 1.1) translate(-201.70 -411.40)">1</text>
<rect x="219.10" y="419.90" width="26.30" height="25.50" fill="none" stroke="#ffffff" stroke-width="0.6" stroke-dasharray="1 1" opacity="0.9"/>
<text x="232.40" y="411.40" font-size="9.75" text-anchor="middle" fill="#111" transform="translate(232.40 411.40) scale(1 1.1) translate(-232.40 -411.40)">2</text>
<rect x="250.10" y="419.90" width="26.30" height="25.50" fill="none" stroke="#ffffff" stroke-width="0.6" stroke-dasharray="1 1" opacity="0.9"/>
<text x="263.00" y="411.40" font-size="9.75" text-anchor="middle" fill="#111" transform="translate(263.00 411.40) scale(1 1.1) translate(-263.00 -411.40)">3</text>
<rect x="260.70" y="460.10" width="20.50" height="2.20" fill="#ffffff"/>
<text x="358.55" y="369.70" font-size="9.75" text-anchor="middle" transform="translate(358.55 369.70) scale(1 1.1) translate(-358.55 -369.70)">Exercise 20 min</text>
<g clip-path="url(#ci2)"><g filter="url(#blur6)"><rect x="292.4" y="368.9" width="26.1" height="27.6" fill="#f02850"/><rect x="317.9" y="368.9" width="14.1" height="27.6" fill="#f02850"/><rect x="331.5" y="368.9" width="14.1" height="27.6" fill="#f03858"/><rect x="345.0" y="368.9" width="14.1" height="27.6" fill="#f06880"/><rect x="358.5" y="368.9" width="14.1" height="27.6" fill="#f06078"/><rect x="372.1" y="368.9" width="14.1" height="27.6" fill="#f03050"/><rect x="385.6" y="368.9" width="14.1" height="27.6" fill="#f02850"/><rect x="399.2" y="368.9" width="26.1" height="27.6" fill="#f02850"/><rect x="292.4" y="395.9" width="26.1" height="15.6" fill="#f02850"/><rect x="317.9" y="395.9" width="14.1" height="15.6" fill="#f02850"/><rect x="331.5" y="395.9" width="14.1" height="15.6" fill="#f02850"/><rect x="345.0" y="395.9" width="14.1" height="15.6" fill="#f03050"/><rect x="358.5" y="395.9" width="14.1" height="15.6" fill="#f03048"/><rect x="372.1" y="395.9" width="14.1" height="15.6" fill="#f03848"/><rect x="385.6" y="395.9" width="14.1" height="15.6" fill="#f04040"/><rect x="399.2" y="395.9" width="26.1" height="15.6" fill="#f05040"/><rect x="292.4" y="410.9" width="26.1" height="15.6" fill="#f03850"/><rect x="317.9" y="410.9" width="14.1" height="15.6" fill="#f03048"/><rect x="331.5" y="410.9" width="14.1" height="15.6" fill="#f04040"/><rect x="345.0" y="410.9" width="14.1" height="15.6" fill="#f05838"/><rect x="358.5" y="410.9" width="14.1" height="15.6" fill="#f07830"/><rect x="372.1" y="410.9" width="14.1" height="15.6" fill="#f09028"/><rect x="385.6" y="410.9" width="14.1" height="15.6" fill="#f0a028"/><rect x="399.2" y="410.9" width="26.1" height="15.6" fill="#f0a828"/><rect x="292.4" y="425.9" width="26.1" height="15.6" fill="#f03850"/><rect x="317.9" y="425.9" width="14.1" height="15.6" fill="#f05868"/><rect x="331.5" y="425.9" width="14.1" height="15.6" fill="#f05060"/><rect x="345.0" y="425.9" width="14.1" height="15.6" fill="#f09030"/><rect x="358.5" y="425.9" width="14.1" height="15.6" fill="#f0a028"/><rect x="372.1" y="425.9" width="14.1" height="15.6" fill="#f0b028"/><rect x="385.6" y="425.9" width="14.1" height="15.6" fill="#f0c020"/><rect x="399.2" y="425.9" width="26.1" height="15.6" fill="#f0c020"/><rect x="292.4" y="440.8" width="26.1" height="15.6" fill="#f04850"/><rect x="317.9" y="440.8" width="14.1" height="15.6" fill="#f05060"/><rect x="331.5" y="440.8" width="14.1" height="15.6" fill="#f06050"/><rect x="345.0" y="440.8" width="14.1" height="15.6" fill="#f09830"/><rect x="358.5" y="440.8" width="14.1" height="15.6" fill="#f0b028"/><rect x="372.1" y="440.8" width="14.1" height="15.6" fill="#f0c020"/><rect x="385.6" y="440.8" width="14.1" height="15.6" fill="#e8c818"/><rect x="399.2" y="440.8" width="26.1" height="15.6" fill="#e8d010"/><rect x="292.4" y="455.8" width="26.1" height="27.6" fill="#f06040"/><rect x="317.9" y="455.8" width="14.1" height="27.6" fill="#f06838"/><rect x="331.5" y="455.8" width="14.1" height="27.6" fill="#f08830"/><rect x="345.0" y="455.8" width="14.1" height="27.6" fill="#f0a028"/><rect x="358.5" y="455.8" width="14.1" height="27.6" fill="#f0b828"/><rect x="372.1" y="455.8" width="14.1" height="27.6" fill="#f0c020"/><rect x="385.6" y="455.8" width="14.1" height="27.6" fill="#e8c818"/><rect x="399.2" y="455.8" width="26.1" height="27.6" fill="#e8d010"/></g>
<ellipse cx="322" cy="432" rx="9.5" ry="8.5" fill="#f8a0b0" filter="url(#blur3)"/>
<ellipse cx="360" cy="385" rx="14" ry="5" fill="#f07888" opacity="0.8" filter="url(#blur3)"/>
<ellipse cx="349.5" cy="428" rx="1.4" ry="2.8" fill="#e0d020"/>
<ellipse cx="354" cy="426.5" rx="1.2" ry="2.4" fill="#e0d020"/>
<ellipse cx="362" cy="424.5" rx="1.3" ry="1.6" fill="#e0d020"/>
<ellipse cx="358.5" cy="435" rx="2.4" ry="3.8" fill="#e0d020"/>
<ellipse cx="366" cy="430" rx="1" ry="1.5" fill="#e0d020"/>
<ellipse cx="349" cy="437" rx="1.2" ry="1.5" fill="#e0d020"/>
<ellipse cx="364" cy="440" rx="1.2" ry="1.2" fill="#e0d020"/>
<ellipse cx="352" cy="442" rx="1" ry="1" fill="#e0d020"/>
</g>
<rect x="314.40" y="419.90" width="26.30" height="25.50" fill="none" stroke="#ffffff" stroke-width="0.6" stroke-dasharray="1 1" opacity="0.9"/>
<text x="327.70" y="411.40" font-size="9.75" text-anchor="middle" fill="#111" transform="translate(327.70 411.40) scale(1 1.1) translate(-327.70 -411.40)">1</text>
<rect x="345.40" y="419.90" width="26.30" height="25.50" fill="none" stroke="#ffffff" stroke-width="0.6" stroke-dasharray="1 1" opacity="0.9"/>
<text x="355.50" y="411.40" font-size="9.75" text-anchor="middle" fill="#111" transform="translate(355.50 411.40) scale(1 1.1) translate(-355.50 -411.40)">2</text>
<rect x="376.40" y="419.90" width="26.30" height="25.50" fill="none" stroke="#ffffff" stroke-width="0.6" stroke-dasharray="1 1" opacity="0.9"/>
<text x="380.50" y="411.40" font-size="9.75" text-anchor="middle" fill="#111" transform="translate(380.50 411.40) scale(1 1.1) translate(-380.50 -411.40)">3</text>
<rect x="387.20" y="460.10" width="20.50" height="2.20" fill="#ffffff"/>
<rect x="430.30" y="388.40" width="6.80" height="71.90" fill="url(#cbar)"/>
<text x="433.70" y="379.70" font-size="9.75" text-anchor="middle" transform="translate(433.70 379.70) scale(1 1.1) translate(-433.70 -379.70)">37</text>
<text x="432.70" y="475.30" font-size="9.75" text-anchor="middle" transform="translate(432.70 475.30) scale(1 1.1) translate(-432.70 -475.30)">27</text>
<text x="454.80" y="425.00" font-size="9.75" text-anchor="middle" transform="translate(454.80 425.00) rotate(-90) scale(1 1.1) translate(-454.80 -425.00)">Temperature (°C)</text>
<text x="52.30" y="488.00" font-size="9.75" transform="translate(52.30 488.00) scale(1 1.1) translate(-52.30 -488.00)">1: Commercial gel</text>
<text x="156.50" y="488.00" font-size="9.75" transform="translate(156.50 488.00) scale(1 1.1) translate(-156.50 -488.00)">2: PDMS film</text>
<text x="239.50" y="488.00" font-size="9.75" transform="translate(239.50 488.00) scale(1 1.1) translate(-239.50 -488.00)">3: Organohydrogel nanofilm</text>
<text x="486.10" y="353.70" font-size="10.5" transform="translate(486.10 353.70) scale(1 1.1) translate(-486.10 -353.70)">G</text>
<rect x="530.50" y="430.80" width="16.00" height="56.60" fill="#fff" stroke="#2a2a2a" stroke-width="0.8"/>
<rect x="550.10" y="464.07" width="15.60" height="23.32" fill="#dcdcdc" stroke="#2a2a2a" stroke-width="0.8"/>
<rect x="569.30" y="485.84" width="15.60" height="1.56" fill="#fff" stroke="#e84040" stroke-width="0.8"/>
<rect x="607.10" y="422.71" width="15.80" height="64.69" fill="#fff" stroke="#2a2a2a" stroke-width="0.8"/>
<rect x="626.50" y="474.03" width="15.80" height="13.37" fill="#dcdcdc" stroke="#2a2a2a" stroke-width="0.8"/>
<rect x="645.40" y="485.84" width="16.10" height="1.56" fill="#fff" stroke="#e84040" stroke-width="0.8"/>
<line x1="538.50" y1="436.08" x2="538.50" y2="425.82" stroke="#2a2a2a" stroke-width="0.8"/>
<line x1="535.50" y1="425.82" x2="541.50" y2="425.82" stroke="#2a2a2a" stroke-width="0.8"/>
<line x1="535.50" y1="436.08" x2="541.50" y2="436.08" stroke="#2a2a2a" stroke-width="0.8"/>
<line x1="557.90" y1="471.85" x2="557.90" y2="456.30" stroke="#2a2a2a" stroke-width="0.8"/>
<line x1="554.90" y1="456.30" x2="560.90" y2="456.30" stroke="#2a2a2a" stroke-width="0.8"/>
<line x1="554.90" y1="471.85" x2="560.90" y2="471.85" stroke="#2a2a2a" stroke-width="0.8"/>
<line x1="615.00" y1="426.75" x2="615.00" y2="418.36" stroke="#2a2a2a" stroke-width="0.8"/>
<line x1="612.00" y1="418.36" x2="618.00" y2="418.36" stroke="#2a2a2a" stroke-width="0.8"/>
<line x1="612.00" y1="426.75" x2="618.00" y2="426.75" stroke="#2a2a2a" stroke-width="0.8"/>
<line x1="634.40" y1="478.69" x2="634.40" y2="469.36" stroke="#2a2a2a" stroke-width="0.8"/>
<line x1="631.40" y1="469.36" x2="637.40" y2="469.36" stroke="#2a2a2a" stroke-width="0.8"/>
<line x1="631.40" y1="478.69" x2="637.40" y2="478.69" stroke="#2a2a2a" stroke-width="0.8"/>
<circle cx="535.5" cy="429.2" r="1.9" fill="#fff" stroke="#2a2a2a" stroke-width="0.7"/>
<circle cx="541.5" cy="425.8" r="1.9" fill="#fff" stroke="#2a2a2a" stroke-width="0.7"/>
<circle cx="538.5" cy="433.8" r="1.9" fill="#fff" stroke="#2a2a2a" stroke-width="0.7"/>
<circle cx="556.5" cy="458.0" r="1.9" fill="#fff" stroke="#2a2a2a" stroke-width="0.7"/>
<circle cx="560.5" cy="461.6" r="1.9" fill="#fff" stroke="#2a2a2a" stroke-width="0.7"/>
<circle cx="557.5" cy="470.0" r="1.9" fill="#fff" stroke="#2a2a2a" stroke-width="0.7"/>
<circle cx="612.8" cy="419.3" r="1.9" fill="#fff" stroke="#2a2a2a" stroke-width="0.7"/>
<circle cx="617.5" cy="421.3" r="1.9" fill="#fff" stroke="#2a2a2a" stroke-width="0.7"/>
<circle cx="614.8" cy="425.6" r="1.9" fill="#fff" stroke="#2a2a2a" stroke-width="0.7"/>
<circle cx="634.4" cy="469.8" r="1.9" fill="#fff" stroke="#2a2a2a" stroke-width="0.7"/>
<circle cx="631.5" cy="474.3" r="1.9" fill="#fff" stroke="#2a2a2a" stroke-width="0.7"/>
<circle cx="637.0" cy="476.0" r="1.9" fill="#fff" stroke="#2a2a2a" stroke-width="0.7"/>
<circle cx="573.5" cy="486.0" r="1.7" fill="#fff" stroke="#e84040" stroke-width="0.6"/>
<circle cx="577" cy="484.7" r="1.7" fill="#fff" stroke="#e84040" stroke-width="0.6"/>
<circle cx="580.5" cy="485.6" r="1.7" fill="#fff" stroke="#e84040" stroke-width="0.6"/>
<circle cx="649.5" cy="486.0" r="1.7" fill="#fff" stroke="#e84040" stroke-width="0.6"/>
<circle cx="653" cy="484.7" r="1.7" fill="#fff" stroke="#e84040" stroke-width="0.6"/>
<circle cx="656.5" cy="485.6" r="1.7" fill="#fff" stroke="#e84040" stroke-width="0.6"/>
<rect x="514.60" y="363.00" width="162.70" height="124.40" fill="none" stroke="#111" stroke-width="1.2"/>
<line x1="514.60" y1="487.40" x2="516.90" y2="487.40" stroke="#111" stroke-width="0.9"/>
<text x="511.60" y="490.60" font-size="9.75" text-anchor="end" transform="translate(511.60 490.60) scale(1 1.1) translate(-511.60 -490.60)">0</text>
<line x1="514.60" y1="456.30" x2="516.90" y2="456.30" stroke="#111" stroke-width="0.9"/>
<text x="511.60" y="459.50" font-size="9.75" text-anchor="end" transform="translate(511.60 459.50) scale(1 1.1) translate(-511.60 -459.50)">1</text>
<line x1="514.60" y1="425.20" x2="516.90" y2="425.20" stroke="#111" stroke-width="0.9"/>
<text x="511.60" y="428.40" font-size="9.75" text-anchor="end" transform="translate(511.60 428.40) scale(1 1.1) translate(-511.60 -428.40)">2</text>
<line x1="514.60" y1="394.10" x2="516.90" y2="394.10" stroke="#111" stroke-width="0.9"/>
<text x="511.60" y="397.30" font-size="9.75" text-anchor="end" transform="translate(511.60 397.30) scale(1 1.1) translate(-511.60 -397.30)">3</text>
<line x1="514.60" y1="363.00" x2="516.90" y2="363.00" stroke="#111" stroke-width="0.9"/>
<text x="511.60" y="366.20" font-size="9.75" text-anchor="end" transform="translate(511.60 366.20) scale(1 1.1) translate(-511.60 -366.20)">4</text>
<line x1="514.60" y1="471.85" x2="515.90" y2="471.85" stroke="#111" stroke-width="0.8"/>
<line x1="514.60" y1="440.75" x2="515.90" y2="440.75" stroke="#111" stroke-width="0.8"/>
<line x1="514.60" y1="409.65" x2="515.90" y2="409.65" stroke="#111" stroke-width="0.8"/>
<line x1="514.60" y1="378.55" x2="515.90" y2="378.55" stroke="#111" stroke-width="0.8"/>
<line x1="557.90" y1="487.40" x2="557.90" y2="485.10" stroke="#111" stroke-width="0.9"/>
<line x1="634.40" y1="487.40" x2="634.40" y2="485.10" stroke="#111" stroke-width="0.9"/>
<rect x="525.10" y="368.90" width="14.40" height="7.40" fill="#fff" stroke="#2a2a2a" stroke-width="0.8"/>
<rect x="525.10" y="381.40" width="14.40" height="7.30" fill="#dcdcdc" stroke="#2a2a2a" stroke-width="0.8"/>
<rect x="525.10" y="394.10" width="14.40" height="7.40" fill="#fff" stroke="#e84040" stroke-width="0.8"/>
<text x="546.80" y="375.80" font-size="9.75" transform="translate(546.80 375.80) scale(1 1.1) translate(-546.80 -375.80)">Commercial gel</text>
<text x="546.80" y="388.30" font-size="9.75" transform="translate(546.80 388.30) scale(1 1.1) translate(-546.80 -388.30)">2 µm PDMS film</text>
<text x="546.80" y="400.90" font-size="9.75" transform="translate(546.80 400.90) scale(1 1.1) translate(-546.80 -400.90)">Organohydrogel nanofilm</text>
<text x="557.60" y="497.90" font-size="9.75" text-anchor="middle" transform="translate(557.60 497.90) scale(1 1.1) translate(-557.60 -497.90)">20 min</text>
<text x="634.20" y="497.90" font-size="9.75" text-anchor="middle" transform="translate(634.20 497.90) scale(1 1.1) translate(-634.20 -497.90)">Post-exercise 0 min</text>
<text x="597.10" y="511.00" font-size="9.75" text-anchor="middle" transform="translate(597.10 511.00) scale(1 1.1) translate(-597.10 -511.00)">Time (min)</text>
<text x="0" y="0" font-size="9.75" text-anchor="middle" transform="translate(498.0,423.7) rotate(-90) scale(1 1.1)"><tspan font-style="italic">ΔT</tspan> (°C)</text>
<text x="18.00" y="525.10" font-size="10.5" transform="translate(18.00 525.10) scale(1 1.1) translate(-18.00 -525.10)">H</text>
<polygon points="51.8,640.7 137.7,654.4 204.2,640.7 124.6,632.5" fill="#ececec"/>
<line x1="51.70" y1="555.86" x2="124.60" y2="564.97" stroke="#e2e2e2" stroke-width="0.5"/>
<line x1="124.60" y1="564.97" x2="204.20" y2="558.06" stroke="#e2e2e2" stroke-width="0.5"/>
<line x1="51.70" y1="575.52" x2="124.60" y2="584.45" stroke="#e2e2e2" stroke-width="0.5"/>
<line x1="124.60" y1="584.45" x2="204.20" y2="577.72" stroke="#e2e2e2" stroke-width="0.5"/>
<line x1="51.70" y1="595.18" x2="124.60" y2="603.92" stroke="#e2e2e2" stroke-width="0.5"/>
<line x1="124.60" y1="603.92" x2="204.20" y2="597.38" stroke="#e2e2e2" stroke-width="0.5"/>
<line x1="51.70" y1="614.84" x2="124.60" y2="623.40" stroke="#e2e2e2" stroke-width="0.5"/>
<line x1="124.60" y1="623.40" x2="204.20" y2="617.04" stroke="#e2e2e2" stroke-width="0.5"/>
<line x1="51.70" y1="634.50" x2="124.60" y2="642.87" stroke="#e2e2e2" stroke-width="0.5"/>
<line x1="124.60" y1="642.87" x2="204.20" y2="636.70" stroke="#e2e2e2" stroke-width="0.5"/>
<line x1="64.20" y1="539.59" x2="64.20" y2="640.00" stroke="#e2e2e2" stroke-width="0.5"/>
<line x1="79.00" y1="541.47" x2="79.00" y2="640.00" stroke="#e2e2e2" stroke-width="0.5"/>
<line x1="92.50" y1="543.18" x2="92.50" y2="640.00" stroke="#e2e2e2" stroke-width="0.5"/>
<line x1="108.30" y1="545.19" x2="108.30" y2="640.00" stroke="#e2e2e2" stroke-width="0.5"/>
<line x1="143.00" y1="543.86" x2="143.00" y2="636.00" stroke="#e2e2e2" stroke-width="0.5"/>
<line x1="162.00" y1="542.17" x2="162.00" y2="636.00" stroke="#e2e2e2" stroke-width="0.5"/>
<line x1="182.00" y1="540.39" x2="182.00" y2="636.00" stroke="#e2e2e2" stroke-width="0.5"/>
<line x1="51.70" y1="536.20" x2="124.60" y2="545.50" stroke="#bdbdbd" stroke-width="0.6"/>
<line x1="124.60" y1="545.50" x2="204.20" y2="538.40" stroke="#bdbdbd" stroke-width="0.6"/>
<line x1="124.60" y1="545.50" x2="124.60" y2="633.00" stroke="#c8c8c8" stroke-width="0.6"/>
<line x1="204.20" y1="538.40" x2="204.20" y2="640.70" stroke="#bdbdbd" stroke-width="0.6"/>
<path d="M64.4,589.2 L64.4,640.0 L135.6,644.4 C134.0,644.1 129.4,643.4 126.1,642.9 C122.8,642.4 119.4,642.1 116.0,641.4 C112.6,640.7 108.7,639.7 105.8,638.5 C102.9,637.3 100.7,635.8 98.5,634.2 C96.3,632.6 94.6,631.0 92.7,629.1 C90.8,627.2 88.8,624.9 86.9,622.6 C85.0,620.3 83.0,618.0 81.1,615.3 C79.2,612.6 77.2,609.8 75.3,606.6 C73.4,603.5 71.3,599.3 69.5,596.4 C67.7,593.5 65.2,590.4 64.4,589.2 Z" fill="#dcdcdc"/>
<path d="M64.4,589.2 C67.7,586.8 78.3,578.6 84.0,574.7 C89.7,570.8 93.7,568.5 98.5,566.0 C103.3,563.5 108.6,561.2 113.1,559.4 C117.5,557.6 123.2,555.9 125.2,555.2 C125.8,556.2 127.4,558.6 128.7,561.0 C130.0,563.4 131.6,566.6 133.1,569.7 C134.6,572.8 135.9,576.4 137.4,579.8 C138.9,583.2 140.4,586.9 141.8,590.0 C143.2,593.1 144.7,595.8 146.1,598.7 C147.5,601.6 148.8,604.2 150.5,607.4 C152.2,610.5 154.4,614.8 156.3,617.6 C158.2,620.4 159.9,622.3 162.1,624.1 C164.3,625.9 166.7,627.3 169.4,628.5 C172.1,629.7 175.2,630.7 178.1,631.4 C181.0,632.1 184.4,632.4 186.8,632.8 C189.2,633.1 191.8,633.4 192.8,633.5 L135.6,644.4 C134.0,644.1 129.4,643.4 126.1,642.9 C122.8,642.4 119.4,642.1 116.0,641.4 C112.6,640.7 108.7,639.7 105.8,638.5 C102.9,637.3 100.7,635.8 98.5,634.2 C96.3,632.6 94.6,631.0 92.7,629.1 C90.8,627.2 88.8,624.9 86.9,622.6 C85.0,620.3 83.0,618.0 81.1,615.3 C79.2,612.6 77.2,609.8 75.3,606.6 C73.4,603.5 71.3,599.3 69.5,596.4 C67.7,593.5 65.2,590.4 64.4,589.2 Z" fill="url(#jetH)"/>
<circle cx="86.8" cy="572.5" r="1.7" fill="url(#rdot)"/>
<circle cx="107.8" cy="563.4" r="1.7" fill="url(#rdot)"/>
<circle cx="125.4" cy="557.5" r="1.7" fill="url(#rdot)"/>
<circle cx="63.6" cy="586.2" r="1.7" fill="url(#rdot)"/>
<circle cx="137.7" cy="573.9" r="1.7" fill="url(#rdot)"/>
<circle cx="119.3" cy="583.6" r="1.7" fill="url(#rdot)"/>
<circle cx="99.1" cy="594.9" r="1.7" fill="url(#rdot)"/>
<circle cx="76.3" cy="610.6" r="1.7" fill="url(#rdot)"/>
<circle cx="89.4" cy="625.9" r="1.7" fill="url(#rdot)"/>
<circle cx="112.8" cy="620.4" r="1.7" fill="url(#rdot)" opacity="0.8"/>
<circle cx="132.5" cy="614.1" r="1.7" fill="url(#rdot)"/>
<circle cx="150.4" cy="602.8" r="1.7" fill="url(#rdot)"/>
<circle cx="163.5" cy="625.6" r="1.7" fill="url(#rdot)"/>
<circle cx="177.4" cy="630.6" r="1.7" fill="url(#rdot)"/>
<circle cx="192.4" cy="633.5" r="1.7" fill="url(#rdot)"/>
<circle cx="176.1" cy="635.9" r="1.7" fill="url(#rdot)"/>
<circle cx="160.9" cy="634.0" r="1.7" fill="url(#rdot)"/>
<circle cx="157.2" cy="640.1" r="1.7" fill="url(#rdot)"/>
<circle cx="141.2" cy="637.7" r="1.7" fill="url(#rdot)"/>
<circle cx="146.4" cy="630.9" r="1.7" fill="url(#rdot)" opacity="0.7"/>
<circle cx="126.2" cy="634.0" r="1.7" fill="url(#rdot)" opacity="0.7"/>
<circle cx="118.8" cy="641.6" r="1.7" fill="url(#rdot)"/>
<circle cx="103.6" cy="639.5" r="1.7" fill="url(#rdot)"/>
<circle cx="135.1" cy="643.5" r="1.7" fill="url(#rdot)"/>
<circle cx="77.6" cy="636.9" r="2.2" fill="url(#cdot)"/>
<line x1="51.70" y1="536.20" x2="51.70" y2="640.70" stroke="#555" stroke-width="1.2"/>
<line x1="51.70" y1="640.70" x2="137.70" y2="654.40" stroke="#555" stroke-width="1.2"/>
<line x1="137.70" y1="654.40" x2="204.20" y2="640.70" stroke="#555" stroke-width="1.2"/>
<line x1="49.00" y1="536.50" x2="51.70" y2="536.50" stroke="#555" stroke-width="0.9"/>
<text x="47.60" y="540.00" font-size="9.75" text-anchor="end" transform="translate(47.60 540.00) scale(1 1.1) translate(-47.60 -540.00)">0.25</text>
<line x1="49.00" y1="556.12" x2="51.70" y2="556.12" stroke="#555" stroke-width="0.9"/>
<text x="47.60" y="559.62" font-size="9.75" text-anchor="end" transform="translate(47.60 559.62) scale(1 1.1) translate(-47.60 -559.62)">0.2</text>
<line x1="49.00" y1="575.74" x2="51.70" y2="575.74" stroke="#555" stroke-width="0.9"/>
<text x="47.60" y="579.24" font-size="9.75" text-anchor="end" transform="translate(47.60 579.24) scale(1 1.1) translate(-47.60 -579.24)">0.15</text>
<line x1="49.00" y1="595.36" x2="51.70" y2="595.36" stroke="#555" stroke-width="0.9"/>
<text x="47.60" y="598.86" font-size="9.75" text-anchor="end" transform="translate(47.60 598.86) scale(1 1.1) translate(-47.60 -598.86)">0.1</text>
<line x1="49.00" y1="614.98" x2="51.70" y2="614.98" stroke="#555" stroke-width="0.9"/>
<text x="47.60" y="618.48" font-size="9.75" text-anchor="end" transform="translate(47.60 618.48) scale(1 1.1) translate(-47.60 -618.48)">0.05</text>
<line x1="49.00" y1="634.60" x2="51.70" y2="634.60" stroke="#555" stroke-width="0.9"/>
<text x="47.60" y="638.10" font-size="9.75" text-anchor="end" transform="translate(47.60 638.10) scale(1 1.1) translate(-47.60 -638.10)">0</text>
<line x1="58.00" y1="641.70" x2="57.20" y2="644.30" stroke="#555" stroke-width="0.8"/>
<text x="0" y="0" font-size="9.75" text-anchor="end" transform="translate(52.6,650.0) rotate(-50) scale(1 1.1)">0.392</text>
<line x1="72.00" y1="643.94" x2="71.20" y2="646.54" stroke="#555" stroke-width="0.8"/>
<text x="0" y="0" font-size="9.75" text-anchor="end" transform="translate(66.6,652.5) rotate(-50) scale(1 1.1)">2</text>
<line x1="86.00" y1="646.17" x2="85.20" y2="648.77" stroke="#555" stroke-width="0.8"/>
<text x="0" y="0" font-size="9.75" text-anchor="end" transform="translate(80.6,656.1) rotate(-50) scale(1 1.1)">10</text>
<line x1="101.00" y1="648.56" x2="100.20" y2="651.16" stroke="#555" stroke-width="0.8"/>
<text x="0" y="0" font-size="9.75" text-anchor="end" transform="translate(95.6,658.8) rotate(-50) scale(1 1.1)">20</text>
<line x1="119.30" y1="651.48" x2="118.50" y2="654.08" stroke="#555" stroke-width="0.8"/>
<text x="0" y="0" font-size="9.75" text-anchor="end" transform="translate(113.9,660.5) rotate(-50) scale(1 1.1)">100</text>
<line x1="136.00" y1="654.15" x2="135.20" y2="656.75" stroke="#555" stroke-width="0.8"/>
<text x="0" y="0" font-size="9.75" text-anchor="end" transform="translate(130.6,663.2) rotate(-50) scale(1 1.1)">200</text>
<line x1="143.90" y1="652.20" x2="143.90" y2="654.80" stroke="#555" stroke-width="0.8"/>
<text x="0" y="0" font-size="9.75" transform="translate(139.9,663.8) rotate(45) scale(1 1.1)">25</text>
<line x1="165.00" y1="647.80" x2="165.00" y2="650.40" stroke="#555" stroke-width="0.8"/>
<text x="0" y="0" font-size="9.75" transform="translate(161.0,659.4) rotate(45) scale(1 1.1)">29</text>
<line x1="184.70" y1="643.40" x2="184.70" y2="646.00" stroke="#555" stroke-width="0.8"/>
<text x="0" y="0" font-size="9.75" transform="translate(180.7,655.0) rotate(45) scale(1 1.1)">33</text>
<line x1="200.80" y1="639.80" x2="200.80" y2="642.40" stroke="#555" stroke-width="0.8"/>
<text x="0" y="0" font-size="9.75" transform="translate(196.8,651.4) rotate(45) scale(1 1.1)">37</text>
<text x="0" y="0" font-size="9.75" text-anchor="middle" transform="translate(89.6,678.2) rotate(14.5) scale(1 1.1)">Thickness (µm)</text>
<text x="0" y="0" font-size="9.75" text-anchor="middle" transform="translate(184.3,675.3) rotate(-13.5) scale(1 1.1)">Temperature (°C)</text>
<circle cx="60.8" cy="543.2" r="2.1" fill="url(#cdot)"/>
<text x="0" y="0" font-size="8.5" transform="translate(65.2,546.4) rotate(7) scale(1 1.1)">Parylene</text>
<circle cx="136.4" cy="552.0" r="1.9" fill="url(#rdot)"/>
<text x="0" y="0" font-size="8.5" transform="translate(141.3,554.6) rotate(-5) scale(1 1.1)">Organohydrogel</text>
<text x="0" y="0" font-size="8.5" transform="translate(142.5,563.0) rotate(-5) scale(1 1.1)">nanofilm</text>
<text x="7.60" y="588.50" font-size="9.45" text-anchor="middle" transform="translate(7.60 588.50) rotate(-90) scale(1 1.1) translate(-7.60 -588.50)">Air permeance</text>
<text x="0" y="0" font-size="9.6" text-anchor="middle" transform="translate(21.2,587.9) rotate(-90) scale(1 1.1)">(cm<tspan font-size="7" dy="-3.6">3</tspan><tspan dy="3.6"> cm</tspan><tspan font-size="7" dy="-3.6">−2</tspan><tspan dy="3.6"> s</tspan><tspan font-size="7" dy="-3.6">−1</tspan><tspan dy="3.6"> cmHg</tspan><tspan font-size="7" dy="-3.6">−1</tspan><tspan dy="3.6">)</tspan></text>
<text x="254.50" y="525.10" font-size="10.5" transform="translate(254.50 525.10) scale(1 1.1) translate(-254.50 -525.10)">I</text>
<polygon points="293.1,641.0 379.3,655.3 444.5,640.5 365.4,632" fill="#ececec"/>
<line x1="293.10" y1="555.86" x2="365.40" y2="564.97" stroke="#e2e2e2" stroke-width="0.5"/>
<line x1="365.40" y1="564.97" x2="445.00" y2="557.26" stroke="#e2e2e2" stroke-width="0.5"/>
<line x1="293.10" y1="575.52" x2="365.40" y2="584.45" stroke="#e2e2e2" stroke-width="0.5"/>
<line x1="365.40" y1="584.45" x2="445.00" y2="576.92" stroke="#e2e2e2" stroke-width="0.5"/>
<line x1="293.10" y1="595.18" x2="365.40" y2="603.92" stroke="#e2e2e2" stroke-width="0.5"/>
<line x1="365.40" y1="603.92" x2="445.00" y2="596.58" stroke="#e2e2e2" stroke-width="0.5"/>
<line x1="293.10" y1="614.84" x2="365.40" y2="623.40" stroke="#e2e2e2" stroke-width="0.5"/>
<line x1="365.40" y1="623.40" x2="445.00" y2="616.24" stroke="#e2e2e2" stroke-width="0.5"/>
<line x1="293.10" y1="634.50" x2="365.40" y2="642.87" stroke="#e2e2e2" stroke-width="0.5"/>
<line x1="365.40" y1="642.87" x2="445.00" y2="635.90" stroke="#e2e2e2" stroke-width="0.5"/>
<line x1="301.00" y1="539.01" x2="301.00" y2="640.00" stroke="#e2e2e2" stroke-width="0.5"/>
<line x1="320.00" y1="541.44" x2="320.00" y2="640.00" stroke="#e2e2e2" stroke-width="0.5"/>
<line x1="334.00" y1="543.24" x2="334.00" y2="640.00" stroke="#e2e2e2" stroke-width="0.5"/>
<line x1="349.00" y1="545.16" x2="349.00" y2="640.00" stroke="#e2e2e2" stroke-width="0.5"/>
<line x1="385.00" y1="543.56" x2="385.00" y2="636.00" stroke="#e2e2e2" stroke-width="0.5"/>
<line x1="405.00" y1="541.58" x2="405.00" y2="636.00" stroke="#e2e2e2" stroke-width="0.5"/>
<line x1="425.00" y1="539.60" x2="425.00" y2="636.00" stroke="#e2e2e2" stroke-width="0.5"/>
<line x1="293.10" y1="536.20" x2="365.40" y2="545.50" stroke="#bdbdbd" stroke-width="0.6"/>
<line x1="365.40" y1="545.50" x2="445.00" y2="537.60" stroke="#bdbdbd" stroke-width="0.6"/>
<line x1="365.40" y1="545.50" x2="365.40" y2="600.00" stroke="#c8c8c8" stroke-width="0.6"/>
<line x1="445.00" y1="537.60" x2="445.00" y2="640.90" stroke="#bdbdbd" stroke-width="0.6"/>
<path d="M300.5,613.3 C302.8,613.2 308.9,612.1 314.2,612.5 C319.5,612.9 327.7,614.5 332.5,615.9 C337.3,617.3 339.7,619.3 342.9,620.9 C346.1,622.5 348.8,624.0 351.7,625.5 C354.6,627.0 357.5,628.3 360.4,629.9 C363.3,631.5 366.2,633.1 369.2,635.2 C372.2,637.3 376.7,641.1 378.2,642.3 L300.5,640.5 Z" fill="#d8d8d8"/>
<path d="M378.2,642.3 C380.4,640.6 387.2,634.5 391.1,632.1 C395.0,629.7 397.7,628.9 401.3,627.7 C404.9,626.5 409.6,625.3 413.0,624.8 C416.4,624.3 418.9,624.5 421.8,624.6 C424.7,624.7 427.9,625.2 430.5,625.6 C433.1,626.0 436.0,626.8 437.1,627.0 L437.1,640.0 Z" fill="#d8d8d8"/>
<path d="M300.5,613.3 C302.3,611.4 307.8,605.8 311.5,602.0 C315.2,598.2 319.0,594.1 322.6,590.7 C326.2,587.3 329.6,584.7 333.1,581.5 C336.6,578.3 340.4,574.4 343.7,571.7 C347.0,569.0 349.4,567.2 352.8,565.1 C356.2,563.0 362.1,560.2 364.0,559.2 C365.9,560.1 371.6,562.3 375.2,564.5 C378.8,566.7 382.2,569.5 385.7,572.3 C389.2,575.1 392.7,578.4 396.2,581.5 C399.7,584.6 402.8,586.9 406.7,590.7 C410.6,594.5 415.4,599.7 419.3,604.1 C423.2,608.5 426.8,613.4 429.8,617.2 C432.8,621.0 435.9,625.4 437.1,627.0 C436.0,626.8 433.1,626.0 430.5,625.6 C427.9,625.2 424.7,624.7 421.8,624.6 C418.9,624.5 416.4,624.3 413.0,624.8 C409.6,625.3 404.9,626.5 401.3,627.7 C397.7,628.9 395.0,629.7 391.1,632.1 C387.2,634.5 380.4,640.6 378.2,642.3 C376.7,641.1 372.2,637.3 369.2,635.2 C366.2,633.1 363.3,631.5 360.4,629.9 C357.5,628.3 354.6,627.0 351.7,625.5 C348.8,624.0 346.1,622.5 342.9,620.9 C339.7,619.3 337.3,617.3 332.5,615.9 C327.7,614.5 319.5,612.9 314.2,612.5 C308.9,612.1 302.8,613.2 300.5,613.3 Z" fill="url(#jetI)"/>
<circle cx="300.5" cy="610.6" r="1.7" fill="url(#rdot)"/>
<circle cx="314.2" cy="612.0" r="1.7" fill="url(#rdot)"/>
<circle cx="328.6" cy="616.7" r="1.7" fill="url(#rdot)"/>
<circle cx="343.6" cy="622.5" r="1.7" fill="url(#rdot)"/>
<circle cx="360.1" cy="629.8" r="1.7" fill="url(#rdot)"/>
<circle cx="378.5" cy="640.3" r="1.7" fill="url(#rdot)"/>
<circle cx="400.9" cy="634.3" r="1.7" fill="url(#rdot)"/>
<circle cx="420.6" cy="624.6" r="1.7" fill="url(#rdot)"/>
<circle cx="437.1" cy="623.8" r="1.7" fill="url(#rdot)"/>
<circle cx="324.1" cy="584.9" r="1.7" fill="url(#rdot)"/>
<circle cx="337.3" cy="587.8" r="1.7" fill="url(#rdot)"/>
<circle cx="345.2" cy="568.6" r="1.7" fill="url(#rdot)"/>
<circle cx="358.3" cy="572.5" r="1.7" fill="url(#rdot)"/>
<circle cx="364.1" cy="559.9" r="1.7" fill="url(#rdot)"/>
<circle cx="377.2" cy="567.3" r="1.7" fill="url(#rdot)"/>
<circle cx="372.5" cy="580.4" r="1.7" fill="url(#rdot)"/>
<circle cx="387.2" cy="593.0" r="1.7" fill="url(#rdot)"/>
<circle cx="390.9" cy="576.5" r="1.7" fill="url(#rdot)"/>
<circle cx="405.6" cy="589.6" r="1.7" fill="url(#rdot)"/>
<circle cx="420.6" cy="607.5" r="1.7" fill="url(#rdot)"/>
<circle cx="351.5" cy="595.7" r="1.7" fill="url(#rdot)" opacity="0.35"/>
<circle cx="366.7" cy="610.1" r="1.7" fill="url(#rdot)" opacity="0.35"/>
<circle cx="383.8" cy="623.8" r="1.7" fill="url(#rdot)" opacity="0.5"/>
<circle cx="403.5" cy="612.7" r="1.7" fill="url(#rdot)" opacity="0.35"/>
<line x1="293.10" y1="536.20" x2="293.10" y2="641.00" stroke="#555" stroke-width="1.2"/>
<line x1="293.10" y1="641.00" x2="379.30" y2="655.30" stroke="#555" stroke-width="1.2"/>
<line x1="379.30" y1="655.30" x2="444.50" y2="640.50" stroke="#555" stroke-width="1.2"/>
<line x1="290.40" y1="536.50" x2="293.10" y2="536.50" stroke="#555" stroke-width="0.9"/>
<text x="286.40" y="540.00" font-size="9.75" text-anchor="end" transform="translate(286.40 540.00) scale(1 1.1) translate(-286.40 -540.00)">3600</text>
<line x1="290.40" y1="556.12" x2="293.10" y2="556.12" stroke="#555" stroke-width="0.9"/>
<text x="286.40" y="559.62" font-size="9.75" text-anchor="end" transform="translate(286.40 559.62) scale(1 1.1) translate(-286.40 -559.62)">3000</text>
<line x1="290.40" y1="575.74" x2="293.10" y2="575.74" stroke="#555" stroke-width="0.9"/>
<text x="286.40" y="579.24" font-size="9.75" text-anchor="end" transform="translate(286.40 579.24) scale(1 1.1) translate(-286.40 -579.24)">2400</text>
<line x1="290.40" y1="595.36" x2="293.10" y2="595.36" stroke="#555" stroke-width="0.9"/>
<text x="286.40" y="598.86" font-size="9.75" text-anchor="end" transform="translate(286.40 598.86) scale(1 1.1) translate(-286.40 -598.86)">1800</text>
<line x1="290.40" y1="614.98" x2="293.10" y2="614.98" stroke="#555" stroke-width="0.9"/>
<text x="286.40" y="618.48" font-size="9.75" text-anchor="end" transform="translate(286.40 618.48) scale(1 1.1) translate(-286.40 -618.48)">1200</text>
<line x1="290.40" y1="634.60" x2="293.10" y2="634.60" stroke="#555" stroke-width="0.9"/>
<text x="286.40" y="638.10" font-size="9.75" text-anchor="end" transform="translate(286.40 638.10) scale(1 1.1) translate(-286.40 -638.10)">600</text>
<line x1="298.30" y1="641.86" x2="297.50" y2="644.46" stroke="#555" stroke-width="0.8"/>
<text x="0" y="0" font-size="9.75" text-anchor="end" transform="translate(292.9,652.6) rotate(-50) scale(1 1.1)">0.392</text>
<line x1="307.90" y1="643.46" x2="307.10" y2="646.06" stroke="#555" stroke-width="0.8"/>
<text x="0" y="0" font-size="9.75" text-anchor="end" transform="translate(302.5,655.3) rotate(-50) scale(1 1.1)">2</text>
<line x1="322.80" y1="645.93" x2="322.00" y2="648.53" stroke="#555" stroke-width="0.8"/>
<text x="0" y="0" font-size="9.75" text-anchor="end" transform="translate(317.4,657.9) rotate(-50) scale(1 1.1)">10</text>
<line x1="338.60" y1="648.55" x2="337.80" y2="651.15" stroke="#555" stroke-width="0.8"/>
<text x="0" y="0" font-size="9.75" text-anchor="end" transform="translate(333.2,660.5) rotate(-50) scale(1 1.1)">20</text>
<line x1="356.10" y1="651.46" x2="355.30" y2="654.06" stroke="#555" stroke-width="0.8"/>
<text x="0" y="0" font-size="9.75" text-anchor="end" transform="translate(350.7,661.4) rotate(-50) scale(1 1.1)">100</text>
<line x1="373.60" y1="654.36" x2="372.80" y2="656.96" stroke="#555" stroke-width="0.8"/>
<text x="0" y="0" font-size="9.75" text-anchor="end" transform="translate(368.2,664.0) rotate(-50) scale(1 1.1)">200</text>
<line x1="383.90" y1="652.20" x2="383.90" y2="654.80" stroke="#555" stroke-width="0.8"/>
<text x="0" y="0" font-size="9.75" transform="translate(379.9,663.8) rotate(45) scale(1 1.1)">25</text>
<line x1="405.80" y1="647.80" x2="405.80" y2="650.40" stroke="#555" stroke-width="0.8"/>
<text x="0" y="0" font-size="9.75" transform="translate(401.8,659.4) rotate(45) scale(1 1.1)">29</text>
<line x1="425.50" y1="643.40" x2="425.50" y2="646.00" stroke="#555" stroke-width="0.8"/>
<text x="0" y="0" font-size="9.75" transform="translate(421.5,655.0) rotate(45) scale(1 1.1)">33</text>
<line x1="442.30" y1="639.10" x2="442.30" y2="641.70" stroke="#555" stroke-width="0.8"/>
<text x="0" y="0" font-size="9.75" transform="translate(438.3,650.7) rotate(45) scale(1 1.1)">37</text>
<text x="0" y="0" font-size="9.75" text-anchor="middle" transform="translate(328.6,677.7) rotate(14.5) scale(1 1.1)">Thickness (µm)</text>
<text x="0" y="0" font-size="9.75" text-anchor="middle" transform="translate(422.6,676.3) rotate(-13.5) scale(1 1.1)">Temperature (°C)</text>
<text x="0" y="0" font-size="9.75" text-anchor="middle" transform="translate(257.0,587.6) rotate(-90) scale(1 1.1)">WVTR (g m<tspan font-size="6.7" dy="-3.6">−2</tspan><tspan dy="3.6"> day</tspan><tspan font-size="6.7" dy="-3.6">−1</tspan><tspan dy="3.6">)</tspan></text>
<text x="487.30" y="525.10" font-size="10.5" transform="translate(487.30 525.10) scale(1 1.1) translate(-487.30 -525.10)">J</text>
<rect x="515.00" y="537.90" width="27.10" height="121.60" fill="#fbe4da"/>
<rect x="542.10" y="537.90" width="135.50" height="121.60" fill="#c8e8fb"/>
<text x="518.10" y="650.10" font-size="9.25" transform="translate(518.10 650.10) scale(1 1.1) translate(-518.10 -650.10)">Exercise</text>
<text x="611.90" y="650.10" font-size="9.25" transform="translate(611.90 650.10) scale(1 1.1) translate(-611.90 -650.10)">Rest</text>
<line x1="528.55" y1="616.18" x2="528.55" y2="605.54" stroke="#9a9a9a" stroke-width="0.8"/>
<line x1="526.55" y1="616.18" x2="530.55" y2="616.18" stroke="#9a9a9a" stroke-width="0.8"/>
<line x1="526.55" y1="605.54" x2="530.55" y2="605.54" stroke="#9a9a9a" stroke-width="0.8"/>
<rect x="525.25" y="607.56" width="6.60" height="6.60" fill="none" stroke="#9a9a9a" stroke-width="1.0"/>
<line x1="542.10" y1="632.90" x2="542.10" y2="617.70" stroke="#9a9a9a" stroke-width="0.8"/>
<line x1="540.10" y1="632.90" x2="544.10" y2="632.90" stroke="#9a9a9a" stroke-width="0.8"/>
<line x1="540.10" y1="617.70" x2="544.10" y2="617.70" stroke="#9a9a9a" stroke-width="0.8"/>
<rect x="538.80" y="622.00" width="6.60" height="6.60" fill="none" stroke="#9a9a9a" stroke-width="1.0"/>
<line x1="515.00" y1="578.96" x2="515.00" y2="581.96" stroke="#4a4a4a" stroke-width="0.7"/>
<rect x="512.00" y="577.46" width="6.00" height="6.00" fill="none" stroke="#4a4a4a" stroke-width="1.0"/>
<line x1="528.55" y1="594.92" x2="528.55" y2="597.92" stroke="#4a4a4a" stroke-width="0.7"/>
<rect x="525.55" y="593.42" width="6.00" height="6.00" fill="none" stroke="#4a4a4a" stroke-width="1.0"/>
<line x1="542.10" y1="601.76" x2="542.10" y2="604.76" stroke="#4a4a4a" stroke-width="0.7"/>
<rect x="539.10" y="600.26" width="6.00" height="6.00" fill="none" stroke="#4a4a4a" stroke-width="1.0"/>
<line x1="569.20" y1="596.44" x2="569.20" y2="599.44" stroke="#4a4a4a" stroke-width="0.7"/>
<rect x="566.20" y="594.94" width="6.00" height="6.00" fill="none" stroke="#4a4a4a" stroke-width="1.0"/>
<line x1="596.30" y1="592.64" x2="596.30" y2="595.64" stroke="#4a4a4a" stroke-width="0.7"/>
<rect x="593.30" y="591.14" width="6.00" height="6.00" fill="none" stroke="#4a4a4a" stroke-width="1.0"/>
<line x1="623.40" y1="588.84" x2="623.40" y2="591.84" stroke="#4a4a4a" stroke-width="0.7"/>
<rect x="620.40" y="587.34" width="6.00" height="6.00" fill="none" stroke="#4a4a4a" stroke-width="1.0"/>
<line x1="650.50" y1="586.56" x2="650.50" y2="589.56" stroke="#4a4a4a" stroke-width="0.7"/>
<rect x="647.50" y="585.06" width="6.00" height="6.00" fill="none" stroke="#4a4a4a" stroke-width="1.0"/>
<line x1="677.60" y1="584.28" x2="677.60" y2="587.28" stroke="#4a4a4a" stroke-width="0.7"/>
<rect x="674.60" y="582.78" width="6.00" height="6.00" fill="none" stroke="#4a4a4a" stroke-width="1.0"/>
<line x1="515.00" y1="588.84" x2="515.00" y2="591.84" stroke="#e84848" stroke-width="0.7"/>
<rect x="512.00" y="587.34" width="6.00" height="6.00" fill="none" stroke="#e84848" stroke-width="1.0"/>
<line x1="528.55" y1="597.96" x2="528.55" y2="600.96" stroke="#e84848" stroke-width="0.7"/>
<rect x="525.55" y="596.46" width="6.00" height="6.00" fill="none" stroke="#e84848" stroke-width="1.0"/>
<line x1="542.10" y1="604.80" x2="542.10" y2="607.80" stroke="#e84848" stroke-width="0.7"/>
<rect x="539.10" y="603.30" width="6.00" height="6.00" fill="none" stroke="#e84848" stroke-width="1.0"/>
<line x1="569.20" y1="601.76" x2="569.20" y2="604.76" stroke="#e84848" stroke-width="0.7"/>
<rect x="566.20" y="600.26" width="6.00" height="6.00" fill="none" stroke="#e84848" stroke-width="1.0"/>
<line x1="596.30" y1="597.20" x2="596.30" y2="600.20" stroke="#e84848" stroke-width="0.7"/>
<rect x="593.30" y="595.70" width="6.00" height="6.00" fill="none" stroke="#e84848" stroke-width="1.0"/>
<line x1="623.40" y1="594.16" x2="623.40" y2="597.16" stroke="#e84848" stroke-width="0.7"/>
<rect x="620.40" y="592.66" width="6.00" height="6.00" fill="none" stroke="#e84848" stroke-width="1.0"/>
<line x1="650.50" y1="591.88" x2="650.50" y2="594.88" stroke="#e84848" stroke-width="0.7"/>
<rect x="647.50" y="590.38" width="6.00" height="6.00" fill="none" stroke="#e84848" stroke-width="1.0"/>
<line x1="677.60" y1="589.60" x2="677.60" y2="592.60" stroke="#e84848" stroke-width="0.7"/>
<rect x="674.60" y="588.10" width="6.00" height="6.00" fill="none" stroke="#e84848" stroke-width="1.0"/>
<rect x="515.00" y="537.90" width="162.60" height="121.60" fill="none" stroke="#111" stroke-width="1.2"/>
<line x1="515.00" y1="659.50" x2="517.20" y2="659.50" stroke="#111" stroke-width="0.9"/>
<text x="512.30" y="662.60" font-size="9.75" text-anchor="end" transform="translate(512.30 662.60) scale(1 1.1) translate(-512.30 -662.60)">0</text>
<line x1="515.00" y1="629.10" x2="517.20" y2="629.10" stroke="#111" stroke-width="0.9"/>
<text x="512.30" y="632.20" font-size="9.75" text-anchor="end" transform="translate(512.30 632.20) scale(1 1.1) translate(-512.30 -632.20)">20</text>
<line x1="515.00" y1="598.70" x2="517.20" y2="598.70" stroke="#111" stroke-width="0.9"/>
<text x="512.30" y="601.80" font-size="9.75" text-anchor="end" transform="translate(512.30 601.80) scale(1 1.1) translate(-512.30 -601.80)">40</text>
<line x1="515.00" y1="568.30" x2="517.20" y2="568.30" stroke="#111" stroke-width="0.9"/>
<text x="512.30" y="571.40" font-size="9.75" text-anchor="end" transform="translate(512.30 571.40) scale(1 1.1) translate(-512.30 -571.40)">60</text>
<line x1="515.00" y1="537.90" x2="517.20" y2="537.90" stroke="#111" stroke-width="0.9"/>
<text x="512.30" y="541.00" font-size="9.75" text-anchor="end" transform="translate(512.30 541.00) scale(1 1.1) translate(-512.30 -541.00)">80</text>
<line x1="515.00" y1="644.30" x2="516.20" y2="644.30" stroke="#111" stroke-width="0.8"/>
<line x1="515.00" y1="613.90" x2="516.20" y2="613.90" stroke="#111" stroke-width="0.8"/>
<line x1="515.00" y1="583.50" x2="516.20" y2="583.50" stroke="#111" stroke-width="0.8"/>
<line x1="515.00" y1="553.10" x2="516.20" y2="553.10" stroke="#111" stroke-width="0.8"/>
<line x1="515.00" y1="659.50" x2="515.00" y2="657.20" stroke="#111" stroke-width="0.9"/>
<text x="515.00" y="669.30" font-size="9.75" text-anchor="middle" transform="translate(515.00 669.30) scale(1 1.1) translate(-515.00 -669.30)">0</text>
<line x1="542.10" y1="659.50" x2="542.10" y2="657.20" stroke="#111" stroke-width="0.9"/>
<text x="542.10" y="669.30" font-size="9.75" text-anchor="middle" transform="translate(542.10 669.30) scale(1 1.1) translate(-542.10 -669.30)">20</text>
<line x1="569.20" y1="659.50" x2="569.20" y2="657.20" stroke="#111" stroke-width="0.9"/>
<text x="569.20" y="669.30" font-size="9.75" text-anchor="middle" transform="translate(569.20 669.30) scale(1 1.1) translate(-569.20 -669.30)">40</text>
<line x1="596.30" y1="659.50" x2="596.30" y2="657.20" stroke="#111" stroke-width="0.9"/>
<text x="596.30" y="669.30" font-size="9.75" text-anchor="middle" transform="translate(596.30 669.30) scale(1 1.1) translate(-596.30 -669.30)">60</text>
<line x1="623.40" y1="659.50" x2="623.40" y2="657.20" stroke="#111" stroke-width="0.9"/>
<text x="623.40" y="669.30" font-size="9.75" text-anchor="middle" transform="translate(623.40 669.30) scale(1 1.1) translate(-623.40 -669.30)">80</text>
<line x1="650.50" y1="659.50" x2="650.50" y2="657.20" stroke="#111" stroke-width="0.9"/>
<text x="650.50" y="669.30" font-size="9.75" text-anchor="middle" transform="translate(650.50 669.30) scale(1 1.1) translate(-650.50 -669.30)">100</text>
<line x1="677.60" y1="659.50" x2="677.60" y2="657.20" stroke="#111" stroke-width="0.9"/>
<text x="677.60" y="669.30" font-size="9.75" text-anchor="middle" transform="translate(677.60 669.30) scale(1 1.1) translate(-677.60 -669.30)">120</text>
<line x1="528.55" y1="659.50" x2="528.55" y2="658.20" stroke="#111" stroke-width="0.8"/>
<line x1="555.65" y1="659.50" x2="555.65" y2="658.20" stroke="#111" stroke-width="0.8"/>
<line x1="582.75" y1="659.50" x2="582.75" y2="658.20" stroke="#111" stroke-width="0.8"/>
<line x1="609.85" y1="659.50" x2="609.85" y2="658.20" stroke="#111" stroke-width="0.8"/>
<line x1="636.95" y1="659.50" x2="636.95" y2="658.20" stroke="#111" stroke-width="0.8"/>
<line x1="664.05" y1="659.50" x2="664.05" y2="658.20" stroke="#111" stroke-width="0.8"/>
<text x="597.00" y="682.40" font-size="9.75" text-anchor="middle" transform="translate(597.00 682.40) scale(1 1.1) translate(-597.00 -682.40)">Time (min)</text>
<rect x="524.50" y="541.10" width="5.60" height="5.60" fill="none" stroke="#4a4a4a" stroke-width="1.0"/>
<text x="535.20" y="546.80" font-size="9.25" transform="translate(535.20 546.80) scale(1 1.1) translate(-535.20 -546.80)">Human skin</text>
<rect x="598.10" y="541.10" width="5.60" height="5.60" fill="none" stroke="#9a9a9a" stroke-width="1.0"/>
<text x="609.30" y="546.80" font-size="9.25" transform="translate(609.30 546.80) scale(1 1.1) translate(-609.30 -546.80)">Commercial gel</text>
<rect x="524.50" y="552.00" width="5.60" height="5.60" fill="none" stroke="#e84848" stroke-width="1.0"/>
<text x="535.20" y="557.60" font-size="9.25" transform="translate(535.20 557.60) scale(1 1.1) translate(-535.20 -557.60)">Organohydrogel nanofilm</text>
<text x="496.00" y="598.50" font-size="9.75" text-anchor="middle" transform="translate(496.00 598.50) rotate(-90) scale(1 1.1) translate(-496.00 -598.50)">Skin contact impedance (kΩ)</text>
</svg></body></html>
